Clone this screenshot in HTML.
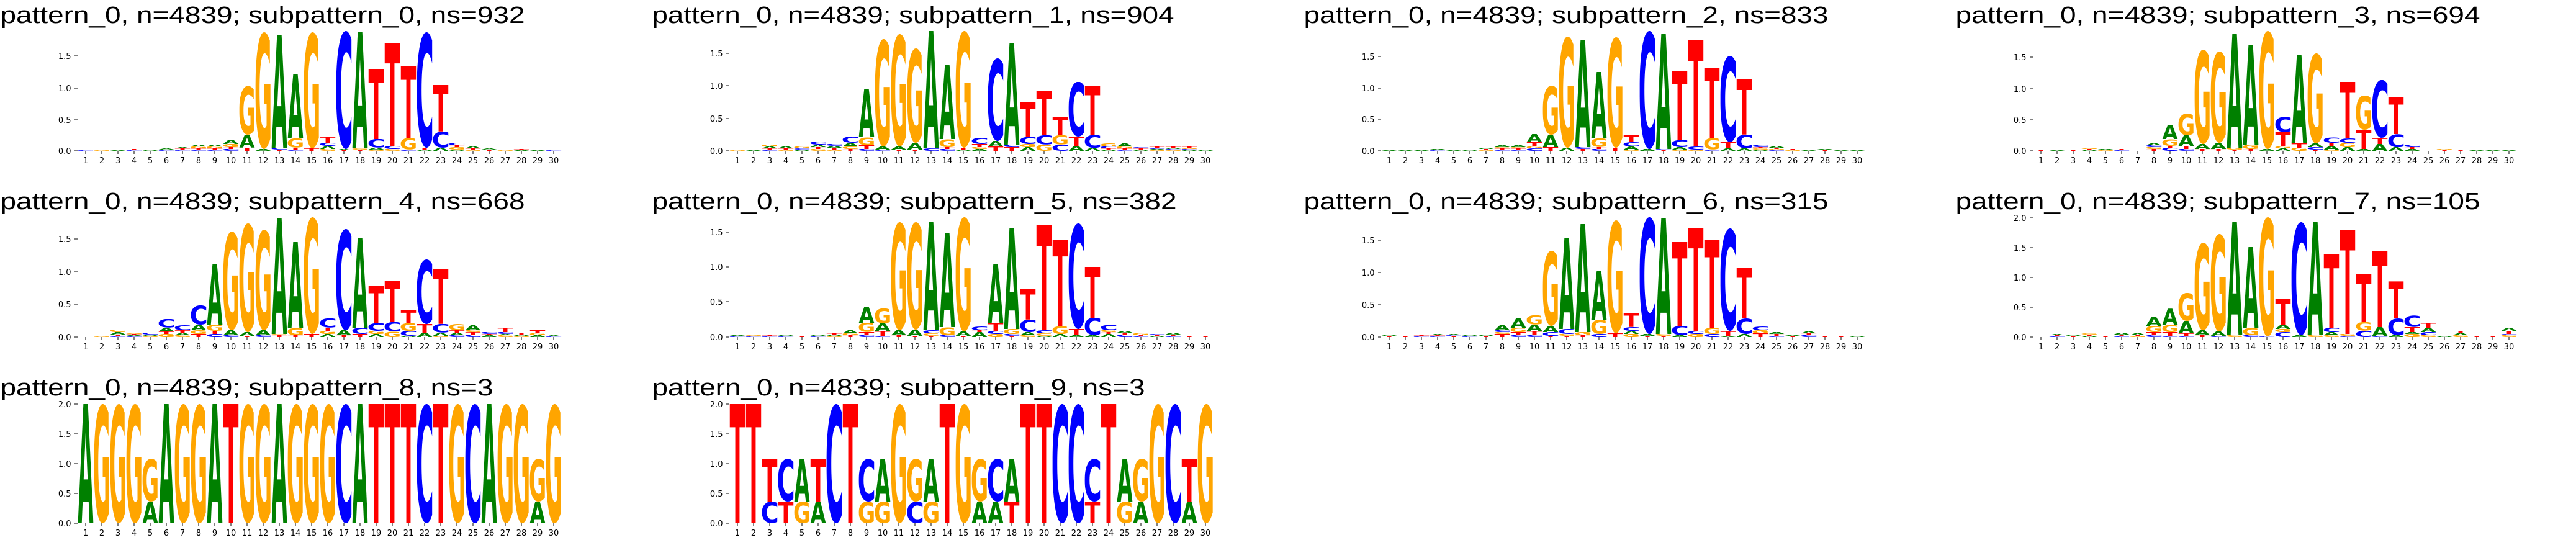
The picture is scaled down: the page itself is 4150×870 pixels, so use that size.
<!DOCTYPE html>
<html><head><meta charset="utf-8"><style>
html,body{margin:0;padding:0;background:#fff}
svg{display:block}
.ttl{font-family:"Liberation Sans",sans-serif;font-size:38px;fill:#000}
.xl{font-family:"DejaVu Sans","Liberation Sans",sans-serif;font-size:13px;fill:#000;text-anchor:middle}
.yl{font-family:"DejaVu Sans","Liberation Sans",sans-serif;font-size:13px;fill:#000;text-anchor:end}
svg svg text{font-family:"DejaVu Sans","Liberation Sans",sans-serif;font-weight:bold;font-size:100px}
.a{fill:#008000}.c{fill:#0000ff}.g{fill:#ffa500}.t{fill:#ff0000}
.tk{stroke:#000;stroke-width:1;fill:none}
</style></head><body>
<svg xmlns="http://www.w3.org/2000/svg" width="4150" height="870" viewBox="0 0 4150 870">
<rect width="4150" height="870" fill="#fff"/>

<!-- P0 -->
<g transform="translate(0,0)">
<text class="ttl" x="0.5" y="37" textLength="845" lengthAdjust="spacingAndGlyphs">pattern_0, n=4839; subpattern_0, ns=932</text>
<path class="tk" d="M138 243v5M164 243v5M190 243v5M216 243v5M242 243v5M268 243v5M294 243v5M320 243v5M346 243v5M372 243v5M398 243v5M424 243v5M450 243v5M476 243v5M502 243v5M528 243v5M554 243v5M580 243v5M606 243v5M632 243v5M658 243v5M684 243v5M710 243v5M736 243v5M762 243v5M788 243v5M814 243v5M840 243v5M866 243v5M892 243v5M120 243h5M120 193h5M120 142h5M120 90h5"/>
<text class="yl" x="114.5" y="248">0.0</text><text class="yl" x="114.5" y="198">0.5</text><text class="yl" x="114.5" y="147">1.0</text><text class="yl" x="114.5" y="95">1.5</text>
<text class="xl" x="138" y="263">1</text><text class="xl" x="164" y="263">2</text><text class="xl" x="190" y="263">3</text><text class="xl" x="216" y="263">4</text><text class="xl" x="242" y="263">5</text><text class="xl" x="268" y="263">6</text><text class="xl" x="294" y="263">7</text><text class="xl" x="320" y="263">8</text><text class="xl" x="346" y="263">9</text><text class="xl" x="372" y="263">10</text><text class="xl" x="398" y="263">11</text><text class="xl" x="424" y="263">12</text><text class="xl" x="450" y="263">13</text><text class="xl" x="476" y="263">14</text><text class="xl" x="502" y="263">15</text><text class="xl" x="528" y="263">16</text><text class="xl" x="554" y="263">17</text><text class="xl" x="580" y="263">18</text><text class="xl" x="606" y="263">19</text><text class="xl" x="632" y="263">20</text><text class="xl" x="658" y="263">21</text><text class="xl" x="684" y="263">22</text><text class="xl" x="710" y="263">23</text><text class="xl" x="736" y="263">24</text><text class="xl" x="762" y="263">25</text><text class="xl" x="788" y="263">26</text><text class="xl" x="814" y="263">27</text><text class="xl" x="840" y="263">28</text><text class="xl" x="866" y="263">29</text><text class="xl" x="892" y="263">30</text>
<g transform="translate(138)"><svg x="-12.35" y="241" width="24.7" height="1" viewBox="0.8 -72.9 75.8 72.9" preserveAspectRatio="none"><text class="a">A</text></svg><svg x="-12.35" y="242" width="24.7" height="1" viewBox="5.5 -74.2 61.7 75.6" preserveAspectRatio="none"><text class="c">C</text></svg></g>
<g transform="translate(164)"><svg x="-12.35" y="241" width="24.7" height="1" viewBox="5.5 -74.2 61.7 75.6" preserveAspectRatio="none"><text class="c">C</text></svg><svg x="-12.35" y="242" width="24.7" height="1" viewBox="5.5 -74.2 71.1 75.6" preserveAspectRatio="none"><text class="g">G</text></svg></g>
<g transform="translate(190)"><svg x="-12.35" y="242" width="24.7" height="1" viewBox="0.8 -72.9 75.8 72.9" preserveAspectRatio="none"><text class="a">A</text></svg></g>
<g transform="translate(216)"><svg x="-12.35" y="240" width="24.7" height="1" viewBox="0.5 -72.9 67.3 72.9" preserveAspectRatio="none"><text class="t">T</text></svg><svg x="-12.35" y="241" width="24.7" height="1" viewBox="0.8 -72.9 75.8 72.9" preserveAspectRatio="none"><text class="a">A</text></svg><svg x="-12.35" y="242" width="24.7" height="1" viewBox="5.5 -74.2 61.7 75.6" preserveAspectRatio="none"><text class="c">C</text></svg></g>
<g transform="translate(242)"><svg x="-12.35" y="241" width="24.7" height="2" viewBox="0.8 -72.9 75.8 72.9" preserveAspectRatio="none"><text class="a">A</text></svg></g>
<g transform="translate(268)"><svg x="-12.35" y="239" width="24.7" height="2" viewBox="0.8 -72.9 75.8 72.9" preserveAspectRatio="none"><text class="a">A</text></svg><svg x="-12.35" y="241" width="24.7" height="1" viewBox="5.5 -74.2 71.1 75.6" preserveAspectRatio="none"><text class="g">G</text></svg><svg x="-12.35" y="242" width="24.7" height="1" viewBox="5.5 -74.2 61.7 75.6" preserveAspectRatio="none"><text class="c">C</text></svg></g>
<g transform="translate(294)"><svg x="-12.35" y="237" width="24.7" height="2" viewBox="0.8 -72.9 75.8 72.9" preserveAspectRatio="none"><text class="a">A</text></svg><svg x="-12.35" y="239" width="24.7" height="2" viewBox="0.5 -72.9 67.3 72.9" preserveAspectRatio="none"><text class="t">T</text></svg><svg x="-12.35" y="241" width="24.7" height="1" viewBox="5.5 -74.2 71.1 75.6" preserveAspectRatio="none"><text class="g">G</text></svg><svg x="-12.35" y="242" width="24.7" height="1" viewBox="5.5 -74.2 61.7 75.6" preserveAspectRatio="none"><text class="c">C</text></svg></g>
<g transform="translate(320)"><svg x="-12.35" y="233" width="24.7" height="3" viewBox="0.8 -72.9 75.8 72.9" preserveAspectRatio="none"><text class="a">A</text></svg><svg x="-12.35" y="236" width="24.7" height="3" viewBox="5.5 -74.2 71.1 75.6" preserveAspectRatio="none"><text class="g">G</text></svg><svg x="-12.35" y="239" width="24.7" height="2" viewBox="0.5 -72.9 67.3 72.9" preserveAspectRatio="none"><text class="t">T</text></svg><svg x="-12.35" y="241" width="24.7" height="2" viewBox="5.5 -74.2 61.7 75.6" preserveAspectRatio="none"><text class="c">C</text></svg></g>
<g transform="translate(346)"><svg x="-12.35" y="233" width="24.7" height="3" viewBox="0.8 -72.9 75.8 72.9" preserveAspectRatio="none"><text class="a">A</text></svg><svg x="-12.35" y="236" width="24.7" height="3" viewBox="5.5 -74.2 71.1 75.6" preserveAspectRatio="none"><text class="g">G</text></svg><svg x="-12.35" y="239" width="24.7" height="2" viewBox="0.5 -72.9 67.3 72.9" preserveAspectRatio="none"><text class="t">T</text></svg><svg x="-12.35" y="241" width="24.7" height="2" viewBox="5.5 -74.2 61.7 75.6" preserveAspectRatio="none"><text class="c">C</text></svg></g>
<g transform="translate(372)"><svg x="-12.35" y="225" width="24.7" height="7" viewBox="0.8 -72.9 75.8 72.9" preserveAspectRatio="none"><text class="a">A</text></svg><svg x="-12.35" y="232" width="24.7" height="5" viewBox="5.5 -74.2 71.1 75.6" preserveAspectRatio="none"><text class="g">G</text></svg><svg x="-12.35" y="237" width="24.7" height="3" viewBox="0.5 -72.9 67.3 72.9" preserveAspectRatio="none"><text class="t">T</text></svg><svg x="-12.35" y="240" width="24.7" height="3" viewBox="5.5 -74.2 61.7 75.6" preserveAspectRatio="none"><text class="c">C</text></svg></g>
<g transform="translate(398)"><svg x="-12.35" y="139" width="24.7" height="78" viewBox="5.5 -74.2 71.1 75.6" preserveAspectRatio="none"><text class="g">G</text></svg><svg x="-12.35" y="217" width="24.7" height="21" viewBox="0.8 -72.9 75.8 72.9" preserveAspectRatio="none"><text class="a">A</text></svg><svg x="-12.35" y="238" width="24.7" height="5" viewBox="0.5 -72.9 67.3 72.9" preserveAspectRatio="none"><text class="t">T</text></svg></g>
<g transform="translate(424)"><svg x="-12.35" y="52" width="24.7" height="188" viewBox="5.5 -74.2 71.1 75.6" preserveAspectRatio="none"><text class="g">G</text></svg><svg x="-12.35" y="240" width="24.7" height="3" viewBox="0.8 -72.9 75.8 72.9" preserveAspectRatio="none"><text class="a">A</text></svg></g>
<g transform="translate(450)"><svg x="-12.35" y="56" width="24.7" height="182" viewBox="0.8 -72.9 75.8 72.9" preserveAspectRatio="none"><text class="a">A</text></svg><svg x="-12.35" y="238" width="24.7" height="3" viewBox="5.5 -74.2 61.7 75.6" preserveAspectRatio="none"><text class="c">C</text></svg><svg x="-12.35" y="241" width="24.7" height="2" viewBox="0.5 -72.9 67.3 72.9" preserveAspectRatio="none"><text class="t">T</text></svg></g>
<g transform="translate(476)"><svg x="-12.35" y="120" width="24.7" height="103" viewBox="0.8 -72.9 75.8 72.9" preserveAspectRatio="none"><text class="a">A</text></svg><svg x="-12.35" y="223" width="24.7" height="15" viewBox="5.5 -74.2 71.1 75.6" preserveAspectRatio="none"><text class="g">G</text></svg><svg x="-12.35" y="238" width="24.7" height="3" viewBox="0.5 -72.9 67.3 72.9" preserveAspectRatio="none"><text class="t">T</text></svg><svg x="-12.35" y="241" width="24.7" height="2" viewBox="5.5 -74.2 61.7 75.6" preserveAspectRatio="none"><text class="c">C</text></svg></g>
<g transform="translate(502)"><svg x="-12.35" y="52" width="24.7" height="187" viewBox="5.5 -74.2 71.1 75.6" preserveAspectRatio="none"><text class="g">G</text></svg><svg x="-12.35" y="239" width="24.7" height="4" viewBox="0.5 -72.9 67.3 72.9" preserveAspectRatio="none"><text class="t">T</text></svg></g>
<g transform="translate(528)"><svg x="-12.35" y="220" width="24.7" height="10" viewBox="0.5 -72.9 67.3 72.9" preserveAspectRatio="none"><text class="t">T</text></svg><svg x="-12.35" y="230" width="24.7" height="5" viewBox="5.5 -74.2 61.7 75.6" preserveAspectRatio="none"><text class="c">C</text></svg><svg x="-12.35" y="235" width="24.7" height="5" viewBox="0.8 -72.9 75.8 72.9" preserveAspectRatio="none"><text class="a">A</text></svg><svg x="-12.35" y="240" width="24.7" height="3" viewBox="5.5 -74.2 71.1 75.6" preserveAspectRatio="none"><text class="g">G</text></svg></g>
<g transform="translate(554)"><svg x="-12.35" y="50" width="24.7" height="190" viewBox="5.5 -74.2 61.7 75.6" preserveAspectRatio="none"><text class="c">C</text></svg><svg x="-12.35" y="240" width="24.7" height="2" viewBox="0.8 -72.9 75.8 72.9" preserveAspectRatio="none"><text class="a">A</text></svg><svg x="-12.35" y="242" width="24.7" height="1" viewBox="0.5 -72.9 67.3 72.9" preserveAspectRatio="none"><text class="t">T</text></svg></g>
<g transform="translate(580)"><svg x="-12.35" y="51" width="24.7" height="188" viewBox="0.8 -72.9 75.8 72.9" preserveAspectRatio="none"><text class="a">A</text></svg><svg x="-12.35" y="239" width="24.7" height="2" viewBox="5.5 -74.2 71.1 75.6" preserveAspectRatio="none"><text class="g">G</text></svg><svg x="-12.35" y="241" width="24.7" height="2" viewBox="0.5 -72.9 67.3 72.9" preserveAspectRatio="none"><text class="t">T</text></svg></g>
<g transform="translate(606)"><svg x="-12.35" y="111" width="24.7" height="113" viewBox="0.5 -72.9 67.3 72.9" preserveAspectRatio="none"><text class="t">T</text></svg><svg x="-12.35" y="224" width="24.7" height="14" viewBox="5.5 -74.2 61.7 75.6" preserveAspectRatio="none"><text class="c">C</text></svg><svg x="-12.35" y="238" width="24.7" height="3" viewBox="0.8 -72.9 75.8 72.9" preserveAspectRatio="none"><text class="a">A</text></svg><svg x="-12.35" y="241" width="24.7" height="2" viewBox="5.5 -74.2 71.1 75.6" preserveAspectRatio="none"><text class="g">G</text></svg></g>
<g transform="translate(632)"><svg x="-12.35" y="70" width="24.7" height="165" viewBox="0.5 -72.9 67.3 72.9" preserveAspectRatio="none"><text class="t">T</text></svg><svg x="-12.35" y="235" width="24.7" height="5" viewBox="5.5 -74.2 61.7 75.6" preserveAspectRatio="none"><text class="c">C</text></svg><svg x="-12.35" y="240" width="24.7" height="3" viewBox="5.5 -74.2 71.1 75.6" preserveAspectRatio="none"><text class="g">G</text></svg></g>
<g transform="translate(658)"><svg x="-12.35" y="106" width="24.7" height="116" viewBox="0.5 -72.9 67.3 72.9" preserveAspectRatio="none"><text class="t">T</text></svg><svg x="-12.35" y="222" width="24.7" height="19" viewBox="5.5 -74.2 71.1 75.6" preserveAspectRatio="none"><text class="g">G</text></svg><svg x="-12.35" y="241" width="24.7" height="2" viewBox="5.5 -74.2 61.7 75.6" preserveAspectRatio="none"><text class="c">C</text></svg></g>
<g transform="translate(684)"><svg x="-12.35" y="52" width="24.7" height="186" viewBox="5.5 -74.2 61.7 75.6" preserveAspectRatio="none"><text class="c">C</text></svg><svg x="-12.35" y="238" width="24.7" height="3" viewBox="0.5 -72.9 67.3 72.9" preserveAspectRatio="none"><text class="t">T</text></svg><svg x="-12.35" y="241" width="24.7" height="2" viewBox="0.8 -72.9 75.8 72.9" preserveAspectRatio="none"><text class="a">A</text></svg></g>
<g transform="translate(710)"><svg x="-12.35" y="137" width="24.7" height="75" viewBox="0.5 -72.9 67.3 72.9" preserveAspectRatio="none"><text class="t">T</text></svg><svg x="-12.35" y="212" width="24.7" height="26" viewBox="5.5 -74.2 61.7 75.6" preserveAspectRatio="none"><text class="c">C</text></svg><svg x="-12.35" y="238" width="24.7" height="5" viewBox="0.8 -72.9 75.8 72.9" preserveAspectRatio="none"><text class="a">A</text></svg></g>
<g transform="translate(736)"><svg x="-12.35" y="230" width="24.7" height="4" viewBox="5.5 -74.2 61.7 75.6" preserveAspectRatio="none"><text class="c">C</text></svg><svg x="-12.35" y="234" width="24.7" height="3" viewBox="0.5 -72.9 67.3 72.9" preserveAspectRatio="none"><text class="t">T</text></svg><svg x="-12.35" y="237" width="24.7" height="4" viewBox="5.5 -74.2 71.1 75.6" preserveAspectRatio="none"><text class="g">G</text></svg><svg x="-12.35" y="241" width="24.7" height="2" viewBox="0.8 -72.9 75.8 72.9" preserveAspectRatio="none"><text class="a">A</text></svg></g>
<g transform="translate(762)"><svg x="-12.35" y="236" width="24.7" height="3" viewBox="0.8 -72.9 75.8 72.9" preserveAspectRatio="none"><text class="a">A</text></svg><svg x="-12.35" y="239" width="24.7" height="2" viewBox="0.5 -72.9 67.3 72.9" preserveAspectRatio="none"><text class="t">T</text></svg><svg x="-12.35" y="241" width="24.7" height="2" viewBox="5.5 -74.2 71.1 75.6" preserveAspectRatio="none"><text class="g">G</text></svg></g>
<g transform="translate(788)"><svg x="-12.35" y="239" width="24.7" height="2" viewBox="0.8 -72.9 75.8 72.9" preserveAspectRatio="none"><text class="a">A</text></svg><svg x="-12.35" y="241" width="24.7" height="2" viewBox="0.5 -72.9 67.3 72.9" preserveAspectRatio="none"><text class="t">T</text></svg></g>
<g transform="translate(814)"><svg x="-12.35" y="242" width="24.7" height="1" viewBox="5.5 -74.2 71.1 75.6" preserveAspectRatio="none"><text class="g">G</text></svg></g>
<g transform="translate(840)"><svg x="-12.35" y="240" width="24.7" height="2" viewBox="0.5 -72.9 67.3 72.9" preserveAspectRatio="none"><text class="t">T</text></svg><svg x="-12.35" y="242" width="24.7" height="1" viewBox="0.8 -72.9 75.8 72.9" preserveAspectRatio="none"><text class="a">A</text></svg></g>
<g transform="translate(866)"><svg x="-12.35" y="242" width="24.7" height="1" viewBox="0.8 -72.9 75.8 72.9" preserveAspectRatio="none"><text class="a">A</text></svg></g>
<g transform="translate(892)"><svg x="-12.35" y="241" width="24.7" height="1" viewBox="0.8 -72.9 75.8 72.9" preserveAspectRatio="none"><text class="a">A</text></svg><svg x="-12.35" y="242" width="24.7" height="1" viewBox="5.5 -74.2 61.7 75.6" preserveAspectRatio="none"><text class="c">C</text></svg></g>
</g>

<!-- P1 -->
<g transform="translate(1050,0)">
<text class="ttl" x="0.5" y="37" textLength="841" lengthAdjust="spacingAndGlyphs">pattern_0, n=4839; subpattern_1, ns=904</text>
<path class="tk" d="M138 243v5M164 243v5M190 243v5M216 243v5M242 243v5M268 243v5M294 243v5M320 243v5M346 243v5M372 243v5M398 243v5M424 243v5M450 243v5M476 243v5M502 243v5M528 243v5M554 243v5M580 243v5M606 243v5M632 243v5M658 243v5M684 243v5M710 243v5M736 243v5M762 243v5M788 243v5M814 243v5M840 243v5M866 243v5M892 243v5M120 243h5M120 191h5M120 138h5M120 86h5"/>
<text class="yl" x="114.5" y="248">0.0</text><text class="yl" x="114.5" y="196">0.5</text><text class="yl" x="114.5" y="143">1.0</text><text class="yl" x="114.5" y="91">1.5</text>
<text class="xl" x="138" y="263">1</text><text class="xl" x="164" y="263">2</text><text class="xl" x="190" y="263">3</text><text class="xl" x="216" y="263">4</text><text class="xl" x="242" y="263">5</text><text class="xl" x="268" y="263">6</text><text class="xl" x="294" y="263">7</text><text class="xl" x="320" y="263">8</text><text class="xl" x="346" y="263">9</text><text class="xl" x="372" y="263">10</text><text class="xl" x="398" y="263">11</text><text class="xl" x="424" y="263">12</text><text class="xl" x="450" y="263">13</text><text class="xl" x="476" y="263">14</text><text class="xl" x="502" y="263">15</text><text class="xl" x="528" y="263">16</text><text class="xl" x="554" y="263">17</text><text class="xl" x="580" y="263">18</text><text class="xl" x="606" y="263">19</text><text class="xl" x="632" y="263">20</text><text class="xl" x="658" y="263">21</text><text class="xl" x="684" y="263">22</text><text class="xl" x="710" y="263">23</text><text class="xl" x="736" y="263">24</text><text class="xl" x="762" y="263">25</text><text class="xl" x="788" y="263">26</text><text class="xl" x="814" y="263">27</text><text class="xl" x="840" y="263">28</text><text class="xl" x="866" y="263">29</text><text class="xl" x="892" y="263">30</text>
<g transform="translate(138)"><svg x="-12.35" y="242" width="24.7" height="1" viewBox="5.5 -74.2 71.1 75.6" preserveAspectRatio="none"><text class="g">G</text></svg></g>
<g transform="translate(164)"><svg x="-12.35" y="242" width="24.7" height="1" viewBox="0.8 -72.9 75.8 72.9" preserveAspectRatio="none"><text class="a">A</text></svg></g>
<g transform="translate(190)"><svg x="-12.35" y="233" width="24.7" height="3" viewBox="5.5 -74.2 71.1 75.6" preserveAspectRatio="none"><text class="g">G</text></svg><svg x="-12.35" y="236" width="24.7" height="3" viewBox="0.8 -72.9 75.8 72.9" preserveAspectRatio="none"><text class="a">A</text></svg><svg x="-12.35" y="239" width="24.7" height="2" viewBox="0.5 -72.9 67.3 72.9" preserveAspectRatio="none"><text class="t">T</text></svg><svg x="-12.35" y="241" width="24.7" height="2" viewBox="5.5 -74.2 61.7 75.6" preserveAspectRatio="none"><text class="c">C</text></svg></g>
<g transform="translate(216)"><svg x="-12.35" y="236" width="24.7" height="3" viewBox="0.8 -72.9 75.8 72.9" preserveAspectRatio="none"><text class="a">A</text></svg><svg x="-12.35" y="239" width="24.7" height="2" viewBox="0.5 -72.9 67.3 72.9" preserveAspectRatio="none"><text class="t">T</text></svg><svg x="-12.35" y="241" width="24.7" height="2" viewBox="5.5 -74.2 71.1 75.6" preserveAspectRatio="none"><text class="g">G</text></svg></g>
<g transform="translate(242)"><svg x="-12.35" y="236" width="24.7" height="3" viewBox="5.5 -74.2 71.1 75.6" preserveAspectRatio="none"><text class="g">G</text></svg><svg x="-12.35" y="239" width="24.7" height="2" viewBox="5.5 -74.2 61.7 75.6" preserveAspectRatio="none"><text class="c">C</text></svg><svg x="-12.35" y="241" width="24.7" height="2" viewBox="0.8 -72.9 75.8 72.9" preserveAspectRatio="none"><text class="a">A</text></svg></g>
<g transform="translate(268)"><svg x="-12.35" y="228" width="24.7" height="5" viewBox="5.5 -74.2 61.7 75.6" preserveAspectRatio="none"><text class="c">C</text></svg><svg x="-12.35" y="233" width="24.7" height="4" viewBox="0.8 -72.9 75.8 72.9" preserveAspectRatio="none"><text class="a">A</text></svg><svg x="-12.35" y="237" width="24.7" height="3" viewBox="0.5 -72.9 67.3 72.9" preserveAspectRatio="none"><text class="t">T</text></svg><svg x="-12.35" y="240" width="24.7" height="3" viewBox="5.5 -74.2 71.1 75.6" preserveAspectRatio="none"><text class="g">G</text></svg></g>
<g transform="translate(294)"><svg x="-12.35" y="232" width="24.7" height="3" viewBox="5.5 -74.2 61.7 75.6" preserveAspectRatio="none"><text class="c">C</text></svg><svg x="-12.35" y="235" width="24.7" height="3" viewBox="0.8 -72.9 75.8 72.9" preserveAspectRatio="none"><text class="a">A</text></svg><svg x="-12.35" y="238" width="24.7" height="3" viewBox="0.5 -72.9 67.3 72.9" preserveAspectRatio="none"><text class="t">T</text></svg><svg x="-12.35" y="241" width="24.7" height="2" viewBox="5.5 -74.2 71.1 75.6" preserveAspectRatio="none"><text class="g">G</text></svg></g>
<g transform="translate(320)"><svg x="-12.35" y="220" width="24.7" height="10" viewBox="5.5 -74.2 61.7 75.6" preserveAspectRatio="none"><text class="c">C</text></svg><svg x="-12.35" y="230" width="24.7" height="6" viewBox="0.8 -72.9 75.8 72.9" preserveAspectRatio="none"><text class="a">A</text></svg><svg x="-12.35" y="236" width="24.7" height="4" viewBox="5.5 -74.2 71.1 75.6" preserveAspectRatio="none"><text class="g">G</text></svg><svg x="-12.35" y="240" width="24.7" height="3" viewBox="0.5 -72.9 67.3 72.9" preserveAspectRatio="none"><text class="t">T</text></svg></g>
<g transform="translate(346)"><svg x="-12.35" y="143" width="24.7" height="78" viewBox="0.8 -72.9 75.8 72.9" preserveAspectRatio="none"><text class="a">A</text></svg><svg x="-12.35" y="221" width="24.7" height="13" viewBox="5.5 -74.2 71.1 75.6" preserveAspectRatio="none"><text class="g">G</text></svg><svg x="-12.35" y="234" width="24.7" height="6" viewBox="0.5 -72.9 67.3 72.9" preserveAspectRatio="none"><text class="t">T</text></svg><svg x="-12.35" y="240" width="24.7" height="3" viewBox="5.5 -74.2 61.7 75.6" preserveAspectRatio="none"><text class="c">C</text></svg></g>
<g transform="translate(372)"><svg x="-12.35" y="63" width="24.7" height="173" viewBox="5.5 -74.2 71.1 75.6" preserveAspectRatio="none"><text class="g">G</text></svg><svg x="-12.35" y="236" width="24.7" height="5" viewBox="0.8 -72.9 75.8 72.9" preserveAspectRatio="none"><text class="a">A</text></svg><svg x="-12.35" y="241" width="24.7" height="2" viewBox="5.5 -74.2 61.7 75.6" preserveAspectRatio="none"><text class="c">C</text></svg></g>
<g transform="translate(398)"><svg x="-12.35" y="55" width="24.7" height="181" viewBox="5.5 -74.2 71.1 75.6" preserveAspectRatio="none"><text class="g">G</text></svg><svg x="-12.35" y="236" width="24.7" height="5" viewBox="0.8 -72.9 75.8 72.9" preserveAspectRatio="none"><text class="a">A</text></svg><svg x="-12.35" y="241" width="24.7" height="2" viewBox="0.5 -72.9 67.3 72.9" preserveAspectRatio="none"><text class="t">T</text></svg></g>
<g transform="translate(424)"><svg x="-12.35" y="78" width="24.7" height="152" viewBox="5.5 -74.2 71.1 75.6" preserveAspectRatio="none"><text class="g">G</text></svg><svg x="-12.35" y="230" width="24.7" height="11" viewBox="0.8 -72.9 75.8 72.9" preserveAspectRatio="none"><text class="a">A</text></svg><svg x="-12.35" y="241" width="24.7" height="2" viewBox="0.5 -72.9 67.3 72.9" preserveAspectRatio="none"><text class="t">T</text></svg></g>
<g transform="translate(450)"><svg x="-12.35" y="50" width="24.7" height="189" viewBox="0.8 -72.9 75.8 72.9" preserveAspectRatio="none"><text class="a">A</text></svg><svg x="-12.35" y="239" width="24.7" height="4" viewBox="5.5 -74.2 61.7 75.6" preserveAspectRatio="none"><text class="c">C</text></svg></g>
<g transform="translate(476)"><svg x="-12.35" y="104" width="24.7" height="120" viewBox="0.8 -72.9 75.8 72.9" preserveAspectRatio="none"><text class="a">A</text></svg><svg x="-12.35" y="224" width="24.7" height="13" viewBox="5.5 -74.2 71.1 75.6" preserveAspectRatio="none"><text class="g">G</text></svg><svg x="-12.35" y="237" width="24.7" height="3" viewBox="0.5 -72.9 67.3 72.9" preserveAspectRatio="none"><text class="t">T</text></svg><svg x="-12.35" y="240" width="24.7" height="3" viewBox="5.5 -74.2 61.7 75.6" preserveAspectRatio="none"><text class="c">C</text></svg></g>
<g transform="translate(502)"><svg x="-12.35" y="50" width="24.7" height="188" viewBox="5.5 -74.2 71.1 75.6" preserveAspectRatio="none"><text class="g">G</text></svg><svg x="-12.35" y="238" width="24.7" height="3" viewBox="0.5 -72.9 67.3 72.9" preserveAspectRatio="none"><text class="t">T</text></svg><svg x="-12.35" y="241" width="24.7" height="2" viewBox="0.8 -72.9 75.8 72.9" preserveAspectRatio="none"><text class="a">A</text></svg></g>
<g transform="translate(528)"><svg x="-12.35" y="222" width="24.7" height="10" viewBox="5.5 -74.2 61.7 75.6" preserveAspectRatio="none"><text class="c">C</text></svg><svg x="-12.35" y="232" width="24.7" height="5" viewBox="0.5 -72.9 67.3 72.9" preserveAspectRatio="none"><text class="t">T</text></svg><svg x="-12.35" y="237" width="24.7" height="3" viewBox="5.5 -74.2 71.1 75.6" preserveAspectRatio="none"><text class="g">G</text></svg><svg x="-12.35" y="240" width="24.7" height="3" viewBox="0.8 -72.9 75.8 72.9" preserveAspectRatio="none"><text class="a">A</text></svg></g>
<g transform="translate(554)"><svg x="-12.35" y="94" width="24.7" height="133" viewBox="5.5 -74.2 61.7 75.6" preserveAspectRatio="none"><text class="c">C</text></svg><svg x="-12.35" y="227" width="24.7" height="9" viewBox="0.8 -72.9 75.8 72.9" preserveAspectRatio="none"><text class="a">A</text></svg><svg x="-12.35" y="236" width="24.7" height="7" viewBox="0.5 -72.9 67.3 72.9" preserveAspectRatio="none"><text class="t">T</text></svg></g>
<g transform="translate(580)"><svg x="-12.35" y="70" width="24.7" height="163" viewBox="0.8 -72.9 75.8 72.9" preserveAspectRatio="none"><text class="a">A</text></svg><svg x="-12.35" y="233" width="24.7" height="4" viewBox="5.5 -74.2 61.7 75.6" preserveAspectRatio="none"><text class="c">C</text></svg><svg x="-12.35" y="237" width="24.7" height="6" viewBox="0.5 -72.9 67.3 72.9" preserveAspectRatio="none"><text class="t">T</text></svg></g>
<g transform="translate(606)"><svg x="-12.35" y="164" width="24.7" height="56" viewBox="0.5 -72.9 67.3 72.9" preserveAspectRatio="none"><text class="t">T</text></svg><svg x="-12.35" y="220" width="24.7" height="12" viewBox="5.5 -74.2 61.7 75.6" preserveAspectRatio="none"><text class="c">C</text></svg><svg x="-12.35" y="232" width="24.7" height="5" viewBox="5.5 -74.2 71.1 75.6" preserveAspectRatio="none"><text class="g">G</text></svg><svg x="-12.35" y="237" width="24.7" height="6" viewBox="0.8 -72.9 75.8 72.9" preserveAspectRatio="none"><text class="a">A</text></svg></g>
<g transform="translate(632)"><svg x="-12.35" y="146" width="24.7" height="72" viewBox="0.5 -72.9 67.3 72.9" preserveAspectRatio="none"><text class="t">T</text></svg><svg x="-12.35" y="218" width="24.7" height="15" viewBox="5.5 -74.2 61.7 75.6" preserveAspectRatio="none"><text class="c">C</text></svg><svg x="-12.35" y="233" width="24.7" height="10" viewBox="5.5 -74.2 71.1 75.6" preserveAspectRatio="none"><text class="g">G</text></svg></g>
<g transform="translate(658)"><svg x="-12.35" y="188" width="24.7" height="30" viewBox="0.5 -72.9 67.3 72.9" preserveAspectRatio="none"><text class="t">T</text></svg><svg x="-12.35" y="218" width="24.7" height="15" viewBox="5.5 -74.2 71.1 75.6" preserveAspectRatio="none"><text class="g">G</text></svg><svg x="-12.35" y="233" width="24.7" height="10" viewBox="5.5 -74.2 61.7 75.6" preserveAspectRatio="none"><text class="c">C</text></svg></g>
<g transform="translate(684)"><svg x="-12.35" y="132" width="24.7" height="88" viewBox="5.5 -74.2 61.7 75.6" preserveAspectRatio="none"><text class="c">C</text></svg><svg x="-12.35" y="220" width="24.7" height="15" viewBox="0.5 -72.9 67.3 72.9" preserveAspectRatio="none"><text class="t">T</text></svg><svg x="-12.35" y="235" width="24.7" height="8" viewBox="0.8 -72.9 75.8 72.9" preserveAspectRatio="none"><text class="a">A</text></svg></g>
<g transform="translate(710)"><svg x="-12.35" y="138" width="24.7" height="79" viewBox="0.5 -72.9 67.3 72.9" preserveAspectRatio="none"><text class="t">T</text></svg><svg x="-12.35" y="217" width="24.7" height="21" viewBox="5.5 -74.2 61.7 75.6" preserveAspectRatio="none"><text class="c">C</text></svg><svg x="-12.35" y="238" width="24.7" height="5" viewBox="0.8 -72.9 75.8 72.9" preserveAspectRatio="none"><text class="a">A</text></svg></g>
<g transform="translate(736)"><svg x="-12.35" y="231" width="24.7" height="5" viewBox="5.5 -74.2 71.1 75.6" preserveAspectRatio="none"><text class="g">G</text></svg><svg x="-12.35" y="236" width="24.7" height="3" viewBox="5.5 -74.2 61.7 75.6" preserveAspectRatio="none"><text class="c">C</text></svg><svg x="-12.35" y="239" width="24.7" height="2" viewBox="0.5 -72.9 67.3 72.9" preserveAspectRatio="none"><text class="t">T</text></svg><svg x="-12.35" y="241" width="24.7" height="2" viewBox="0.8 -72.9 75.8 72.9" preserveAspectRatio="none"><text class="a">A</text></svg></g>
<g transform="translate(762)"><svg x="-12.35" y="231" width="24.7" height="5" viewBox="0.8 -72.9 75.8 72.9" preserveAspectRatio="none"><text class="a">A</text></svg><svg x="-12.35" y="236" width="24.7" height="3" viewBox="5.5 -74.2 71.1 75.6" preserveAspectRatio="none"><text class="g">G</text></svg><svg x="-12.35" y="239" width="24.7" height="2" viewBox="0.5 -72.9 67.3 72.9" preserveAspectRatio="none"><text class="t">T</text></svg><svg x="-12.35" y="241" width="24.7" height="2" viewBox="5.5 -74.2 61.7 75.6" preserveAspectRatio="none"><text class="c">C</text></svg></g>
<g transform="translate(788)"><svg x="-12.35" y="237" width="24.7" height="2" viewBox="5.5 -74.2 61.7 75.6" preserveAspectRatio="none"><text class="c">C</text></svg><svg x="-12.35" y="239" width="24.7" height="2" viewBox="0.5 -72.9 67.3 72.9" preserveAspectRatio="none"><text class="t">T</text></svg><svg x="-12.35" y="241" width="24.7" height="2" viewBox="0.8 -72.9 75.8 72.9" preserveAspectRatio="none"><text class="a">A</text></svg></g>
<g transform="translate(814)"><svg x="-12.35" y="236" width="24.7" height="2" viewBox="0.5 -72.9 67.3 72.9" preserveAspectRatio="none"><text class="t">T</text></svg><svg x="-12.35" y="238" width="24.7" height="2" viewBox="5.5 -74.2 61.7 75.6" preserveAspectRatio="none"><text class="c">C</text></svg><svg x="-12.35" y="240" width="24.7" height="1" viewBox="0.8 -72.9 75.8 72.9" preserveAspectRatio="none"><text class="a">A</text></svg><svg x="-12.35" y="241" width="24.7" height="2" viewBox="5.5 -74.2 71.1 75.6" preserveAspectRatio="none"><text class="g">G</text></svg></g>
<g transform="translate(840)"><svg x="-12.35" y="236" width="24.7" height="2" viewBox="0.5 -72.9 67.3 72.9" preserveAspectRatio="none"><text class="t">T</text></svg><svg x="-12.35" y="238" width="24.7" height="2" viewBox="0.8 -72.9 75.8 72.9" preserveAspectRatio="none"><text class="a">A</text></svg><svg x="-12.35" y="240" width="24.7" height="1" viewBox="5.5 -74.2 61.7 75.6" preserveAspectRatio="none"><text class="c">C</text></svg><svg x="-12.35" y="241" width="24.7" height="2" viewBox="5.5 -74.2 71.1 75.6" preserveAspectRatio="none"><text class="g">G</text></svg></g>
<g transform="translate(866)"><svg x="-12.35" y="236" width="24.7" height="2" viewBox="0.5 -72.9 67.3 72.9" preserveAspectRatio="none"><text class="t">T</text></svg><svg x="-12.35" y="238" width="24.7" height="2" viewBox="5.5 -74.2 71.1 75.6" preserveAspectRatio="none"><text class="g">G</text></svg><svg x="-12.35" y="240" width="24.7" height="1" viewBox="5.5 -74.2 61.7 75.6" preserveAspectRatio="none"><text class="c">C</text></svg><svg x="-12.35" y="241" width="24.7" height="2" viewBox="0.8 -72.9 75.8 72.9" preserveAspectRatio="none"><text class="a">A</text></svg></g>
<g transform="translate(892)"><svg x="-12.35" y="241" width="24.7" height="2" viewBox="0.8 -72.9 75.8 72.9" preserveAspectRatio="none"><text class="a">A</text></svg></g>
</g>

<!-- P2 -->
<g transform="translate(2100,0)">
<text class="ttl" x="0.5" y="37" textLength="845" lengthAdjust="spacingAndGlyphs">pattern_0, n=4839; subpattern_2, ns=833</text>
<path class="tk" d="M138 243v5M164 243v5M190 243v5M216 243v5M242 243v5M268 243v5M294 243v5M320 243v5M346 243v5M372 243v5M398 243v5M424 243v5M450 243v5M476 243v5M502 243v5M528 243v5M554 243v5M580 243v5M606 243v5M632 243v5M658 243v5M684 243v5M710 243v5M736 243v5M762 243v5M788 243v5M814 243v5M840 243v5M866 243v5M892 243v5M120 243h5M120 192h5M120 142h5M120 91h5"/>
<text class="yl" x="114.5" y="248">0.0</text><text class="yl" x="114.5" y="197">0.5</text><text class="yl" x="114.5" y="147">1.0</text><text class="yl" x="114.5" y="96">1.5</text>
<text class="xl" x="138" y="263">1</text><text class="xl" x="164" y="263">2</text><text class="xl" x="190" y="263">3</text><text class="xl" x="216" y="263">4</text><text class="xl" x="242" y="263">5</text><text class="xl" x="268" y="263">6</text><text class="xl" x="294" y="263">7</text><text class="xl" x="320" y="263">8</text><text class="xl" x="346" y="263">9</text><text class="xl" x="372" y="263">10</text><text class="xl" x="398" y="263">11</text><text class="xl" x="424" y="263">12</text><text class="xl" x="450" y="263">13</text><text class="xl" x="476" y="263">14</text><text class="xl" x="502" y="263">15</text><text class="xl" x="528" y="263">16</text><text class="xl" x="554" y="263">17</text><text class="xl" x="580" y="263">18</text><text class="xl" x="606" y="263">19</text><text class="xl" x="632" y="263">20</text><text class="xl" x="658" y="263">21</text><text class="xl" x="684" y="263">22</text><text class="xl" x="710" y="263">23</text><text class="xl" x="736" y="263">24</text><text class="xl" x="762" y="263">25</text><text class="xl" x="788" y="263">26</text><text class="xl" x="814" y="263">27</text><text class="xl" x="840" y="263">28</text><text class="xl" x="866" y="263">29</text><text class="xl" x="892" y="263">30</text>
<g transform="translate(138)"><svg x="-12.35" y="242" width="24.7" height="1" viewBox="0.8 -72.9 75.8 72.9" preserveAspectRatio="none"><text class="a">A</text></svg></g>
<g transform="translate(164)"><svg x="-12.35" y="242" width="24.7" height="1" viewBox="0.8 -72.9 75.8 72.9" preserveAspectRatio="none"><text class="a">A</text></svg></g>
<g transform="translate(190)"><svg x="-12.35" y="242" width="24.7" height="1" viewBox="0.8 -72.9 75.8 72.9" preserveAspectRatio="none"><text class="a">A</text></svg></g>
<g transform="translate(216)"><svg x="-12.35" y="240" width="24.7" height="1" viewBox="0.8 -72.9 75.8 72.9" preserveAspectRatio="none"><text class="a">A</text></svg><svg x="-12.35" y="241" width="24.7" height="1" viewBox="0.5 -72.9 67.3 72.9" preserveAspectRatio="none"><text class="t">T</text></svg><svg x="-12.35" y="242" width="24.7" height="1" viewBox="5.5 -74.2 61.7 75.6" preserveAspectRatio="none"><text class="c">C</text></svg></g>
<g transform="translate(242)"><svg x="-12.35" y="242" width="24.7" height="1" viewBox="0.8 -72.9 75.8 72.9" preserveAspectRatio="none"><text class="a">A</text></svg></g>
<g transform="translate(268)"><svg x="-12.35" y="241" width="24.7" height="2" viewBox="0.8 -72.9 75.8 72.9" preserveAspectRatio="none"><text class="a">A</text></svg></g>
<g transform="translate(294)"><svg x="-12.35" y="238" width="24.7" height="2" viewBox="0.8 -72.9 75.8 72.9" preserveAspectRatio="none"><text class="a">A</text></svg><svg x="-12.35" y="240" width="24.7" height="1" viewBox="0.5 -72.9 67.3 72.9" preserveAspectRatio="none"><text class="t">T</text></svg><svg x="-12.35" y="241" width="24.7" height="2" viewBox="5.5 -74.2 71.1 75.6" preserveAspectRatio="none"><text class="g">G</text></svg></g>
<g transform="translate(320)"><svg x="-12.35" y="234" width="24.7" height="3" viewBox="0.8 -72.9 75.8 72.9" preserveAspectRatio="none"><text class="a">A</text></svg><svg x="-12.35" y="237" width="24.7" height="2" viewBox="5.5 -74.2 71.1 75.6" preserveAspectRatio="none"><text class="g">G</text></svg><svg x="-12.35" y="239" width="24.7" height="2" viewBox="0.5 -72.9 67.3 72.9" preserveAspectRatio="none"><text class="t">T</text></svg><svg x="-12.35" y="241" width="24.7" height="2" viewBox="5.5 -74.2 61.7 75.6" preserveAspectRatio="none"><text class="c">C</text></svg></g>
<g transform="translate(346)"><svg x="-12.35" y="234" width="24.7" height="3" viewBox="0.8 -72.9 75.8 72.9" preserveAspectRatio="none"><text class="a">A</text></svg><svg x="-12.35" y="237" width="24.7" height="2" viewBox="5.5 -74.2 71.1 75.6" preserveAspectRatio="none"><text class="g">G</text></svg><svg x="-12.35" y="239" width="24.7" height="2" viewBox="0.5 -72.9 67.3 72.9" preserveAspectRatio="none"><text class="t">T</text></svg><svg x="-12.35" y="241" width="24.7" height="2" viewBox="5.5 -74.2 61.7 75.6" preserveAspectRatio="none"><text class="c">C</text></svg></g>
<g transform="translate(372)"><svg x="-12.35" y="216" width="24.7" height="13" viewBox="0.8 -72.9 75.8 72.9" preserveAspectRatio="none"><text class="a">A</text></svg><svg x="-12.35" y="229" width="24.7" height="7" viewBox="0.5 -72.9 67.3 72.9" preserveAspectRatio="none"><text class="t">T</text></svg><svg x="-12.35" y="236" width="24.7" height="3" viewBox="5.5 -74.2 71.1 75.6" preserveAspectRatio="none"><text class="g">G</text></svg><svg x="-12.35" y="239" width="24.7" height="4" viewBox="5.5 -74.2 61.7 75.6" preserveAspectRatio="none"><text class="c">C</text></svg></g>
<g transform="translate(398)"><svg x="-12.35" y="138" width="24.7" height="79" viewBox="5.5 -74.2 71.1 75.6" preserveAspectRatio="none"><text class="g">G</text></svg><svg x="-12.35" y="217" width="24.7" height="20" viewBox="0.8 -72.9 75.8 72.9" preserveAspectRatio="none"><text class="a">A</text></svg><svg x="-12.35" y="237" width="24.7" height="6" viewBox="0.5 -72.9 67.3 72.9" preserveAspectRatio="none"><text class="t">T</text></svg></g>
<g transform="translate(424)"><svg x="-12.35" y="59" width="24.7" height="179" viewBox="5.5 -74.2 71.1 75.6" preserveAspectRatio="none"><text class="g">G</text></svg><svg x="-12.35" y="238" width="24.7" height="5" viewBox="0.8 -72.9 75.8 72.9" preserveAspectRatio="none"><text class="a">A</text></svg></g>
<g transform="translate(450)"><svg x="-12.35" y="64" width="24.7" height="173" viewBox="0.8 -72.9 75.8 72.9" preserveAspectRatio="none"><text class="a">A</text></svg><svg x="-12.35" y="237" width="24.7" height="3" viewBox="5.5 -74.2 61.7 75.6" preserveAspectRatio="none"><text class="c">C</text></svg><svg x="-12.35" y="240" width="24.7" height="3" viewBox="0.5 -72.9 67.3 72.9" preserveAspectRatio="none"><text class="t">T</text></svg></g>
<g transform="translate(476)"><svg x="-12.35" y="116" width="24.7" height="107" viewBox="0.8 -72.9 75.8 72.9" preserveAspectRatio="none"><text class="a">A</text></svg><svg x="-12.35" y="223" width="24.7" height="14" viewBox="5.5 -74.2 71.1 75.6" preserveAspectRatio="none"><text class="g">G</text></svg><svg x="-12.35" y="237" width="24.7" height="3" viewBox="0.5 -72.9 67.3 72.9" preserveAspectRatio="none"><text class="t">T</text></svg><svg x="-12.35" y="240" width="24.7" height="3" viewBox="5.5 -74.2 61.7 75.6" preserveAspectRatio="none"><text class="c">C</text></svg></g>
<g transform="translate(502)"><svg x="-12.35" y="60" width="24.7" height="178" viewBox="5.5 -74.2 71.1 75.6" preserveAspectRatio="none"><text class="g">G</text></svg><svg x="-12.35" y="238" width="24.7" height="5" viewBox="0.5 -72.9 67.3 72.9" preserveAspectRatio="none"><text class="t">T</text></svg></g>
<g transform="translate(528)"><svg x="-12.35" y="218" width="24.7" height="11" viewBox="0.5 -72.9 67.3 72.9" preserveAspectRatio="none"><text class="t">T</text></svg><svg x="-12.35" y="229" width="24.7" height="7" viewBox="5.5 -74.2 61.7 75.6" preserveAspectRatio="none"><text class="c">C</text></svg><svg x="-12.35" y="236" width="24.7" height="5" viewBox="0.8 -72.9 75.8 72.9" preserveAspectRatio="none"><text class="a">A</text></svg><svg x="-12.35" y="241" width="24.7" height="2" viewBox="5.5 -74.2 71.1 75.6" preserveAspectRatio="none"><text class="g">G</text></svg></g>
<g transform="translate(554)"><svg x="-12.35" y="50" width="24.7" height="190" viewBox="5.5 -74.2 61.7 75.6" preserveAspectRatio="none"><text class="c">C</text></svg><svg x="-12.35" y="240" width="24.7" height="3" viewBox="0.8 -72.9 75.8 72.9" preserveAspectRatio="none"><text class="a">A</text></svg></g>
<g transform="translate(580)"><svg x="-12.35" y="55" width="24.7" height="185" viewBox="0.8 -72.9 75.8 72.9" preserveAspectRatio="none"><text class="a">A</text></svg><svg x="-12.35" y="240" width="24.7" height="1" viewBox="5.5 -74.2 61.7 75.6" preserveAspectRatio="none"><text class="c">C</text></svg><svg x="-12.35" y="241" width="24.7" height="2" viewBox="0.5 -72.9 67.3 72.9" preserveAspectRatio="none"><text class="t">T</text></svg></g>
<g transform="translate(606)"><svg x="-12.35" y="114" width="24.7" height="111" viewBox="0.5 -72.9 67.3 72.9" preserveAspectRatio="none"><text class="t">T</text></svg><svg x="-12.35" y="225" width="24.7" height="12" viewBox="5.5 -74.2 61.7 75.6" preserveAspectRatio="none"><text class="c">C</text></svg><svg x="-12.35" y="237" width="24.7" height="4" viewBox="0.8 -72.9 75.8 72.9" preserveAspectRatio="none"><text class="a">A</text></svg><svg x="-12.35" y="241" width="24.7" height="2" viewBox="5.5 -74.2 71.1 75.6" preserveAspectRatio="none"><text class="g">G</text></svg></g>
<g transform="translate(632)"><svg x="-12.35" y="65" width="24.7" height="171" viewBox="0.5 -72.9 67.3 72.9" preserveAspectRatio="none"><text class="t">T</text></svg><svg x="-12.35" y="236" width="24.7" height="5" viewBox="5.5 -74.2 61.7 75.6" preserveAspectRatio="none"><text class="c">C</text></svg><svg x="-12.35" y="241" width="24.7" height="2" viewBox="5.5 -74.2 71.1 75.6" preserveAspectRatio="none"><text class="g">G</text></svg></g>
<g transform="translate(658)"><svg x="-12.35" y="109" width="24.7" height="113" viewBox="0.5 -72.9 67.3 72.9" preserveAspectRatio="none"><text class="t">T</text></svg><svg x="-12.35" y="222" width="24.7" height="19" viewBox="5.5 -74.2 71.1 75.6" preserveAspectRatio="none"><text class="g">G</text></svg><svg x="-12.35" y="241" width="24.7" height="2" viewBox="5.5 -74.2 61.7 75.6" preserveAspectRatio="none"><text class="c">C</text></svg></g>
<g transform="translate(684)"><svg x="-12.35" y="90" width="24.7" height="139" viewBox="5.5 -74.2 61.7 75.6" preserveAspectRatio="none"><text class="c">C</text></svg><svg x="-12.35" y="229" width="24.7" height="10" viewBox="0.5 -72.9 67.3 72.9" preserveAspectRatio="none"><text class="t">T</text></svg><svg x="-12.35" y="239" width="24.7" height="4" viewBox="0.8 -72.9 75.8 72.9" preserveAspectRatio="none"><text class="a">A</text></svg></g>
<g transform="translate(710)"><svg x="-12.35" y="128" width="24.7" height="89" viewBox="0.5 -72.9 67.3 72.9" preserveAspectRatio="none"><text class="t">T</text></svg><svg x="-12.35" y="217" width="24.7" height="22" viewBox="5.5 -74.2 61.7 75.6" preserveAspectRatio="none"><text class="c">C</text></svg><svg x="-12.35" y="239" width="24.7" height="4" viewBox="0.8 -72.9 75.8 72.9" preserveAspectRatio="none"><text class="a">A</text></svg></g>
<g transform="translate(736)"><svg x="-12.35" y="234" width="24.7" height="3" viewBox="5.5 -74.2 61.7 75.6" preserveAspectRatio="none"><text class="c">C</text></svg><svg x="-12.35" y="237" width="24.7" height="2" viewBox="0.5 -72.9 67.3 72.9" preserveAspectRatio="none"><text class="t">T</text></svg><svg x="-12.35" y="239" width="24.7" height="2" viewBox="5.5 -74.2 71.1 75.6" preserveAspectRatio="none"><text class="g">G</text></svg><svg x="-12.35" y="241" width="24.7" height="2" viewBox="0.8 -72.9 75.8 72.9" preserveAspectRatio="none"><text class="a">A</text></svg></g>
<g transform="translate(762)"><svg x="-12.35" y="235" width="24.7" height="3" viewBox="0.8 -72.9 75.8 72.9" preserveAspectRatio="none"><text class="a">A</text></svg><svg x="-12.35" y="238" width="24.7" height="2" viewBox="0.5 -72.9 67.3 72.9" preserveAspectRatio="none"><text class="t">T</text></svg><svg x="-12.35" y="240" width="24.7" height="1" viewBox="5.5 -74.2 71.1 75.6" preserveAspectRatio="none"><text class="g">G</text></svg><svg x="-12.35" y="241" width="24.7" height="2" viewBox="5.5 -74.2 61.7 75.6" preserveAspectRatio="none"><text class="c">C</text></svg></g>
<g transform="translate(788)"><svg x="-12.35" y="240" width="24.7" height="1" viewBox="0.5 -72.9 67.3 72.9" preserveAspectRatio="none"><text class="t">T</text></svg><svg x="-12.35" y="241" width="24.7" height="2" viewBox="5.5 -74.2 71.1 75.6" preserveAspectRatio="none"><text class="g">G</text></svg></g>
<g transform="translate(814)"><svg x="-12.35" y="242" width="24.7" height="1" viewBox="0.8 -72.9 75.8 72.9" preserveAspectRatio="none"><text class="a">A</text></svg></g>
<g transform="translate(840)"><svg x="-12.35" y="240" width="24.7" height="1" viewBox="0.8 -72.9 75.8 72.9" preserveAspectRatio="none"><text class="a">A</text></svg><svg x="-12.35" y="241" width="24.7" height="2" viewBox="0.5 -72.9 67.3 72.9" preserveAspectRatio="none"><text class="t">T</text></svg></g>
<g transform="translate(866)"><svg x="-12.35" y="242" width="24.7" height="1" viewBox="0.8 -72.9 75.8 72.9" preserveAspectRatio="none"><text class="a">A</text></svg></g>
<g transform="translate(892)"><svg x="-12.35" y="242" width="24.7" height="1" viewBox="0.8 -72.9 75.8 72.9" preserveAspectRatio="none"><text class="a">A</text></svg></g>
</g>

<!-- P3 -->
<g transform="translate(3150,0)">
<text class="ttl" x="0.5" y="37" textLength="845" lengthAdjust="spacingAndGlyphs">pattern_0, n=4839; subpattern_3, ns=694</text>
<path class="tk" d="M138 243v5M164 243v5M190 243v5M216 243v5M242 243v5M268 243v5M294 243v5M320 243v5M346 243v5M372 243v5M398 243v5M424 243v5M450 243v5M476 243v5M502 243v5M528 243v5M554 243v5M580 243v5M606 243v5M632 243v5M658 243v5M684 243v5M710 243v5M736 243v5M762 243v5M788 243v5M814 243v5M840 243v5M866 243v5M892 243v5M120 243h5M120 193h5M120 143h5M120 92h5"/>
<text class="yl" x="114.5" y="248">0.0</text><text class="yl" x="114.5" y="198">0.5</text><text class="yl" x="114.5" y="148">1.0</text><text class="yl" x="114.5" y="97">1.5</text>
<text class="xl" x="138" y="263">1</text><text class="xl" x="164" y="263">2</text><text class="xl" x="190" y="263">3</text><text class="xl" x="216" y="263">4</text><text class="xl" x="242" y="263">5</text><text class="xl" x="268" y="263">6</text><text class="xl" x="294" y="263">7</text><text class="xl" x="320" y="263">8</text><text class="xl" x="346" y="263">9</text><text class="xl" x="372" y="263">10</text><text class="xl" x="398" y="263">11</text><text class="xl" x="424" y="263">12</text><text class="xl" x="450" y="263">13</text><text class="xl" x="476" y="263">14</text><text class="xl" x="502" y="263">15</text><text class="xl" x="528" y="263">16</text><text class="xl" x="554" y="263">17</text><text class="xl" x="580" y="263">18</text><text class="xl" x="606" y="263">19</text><text class="xl" x="632" y="263">20</text><text class="xl" x="658" y="263">21</text><text class="xl" x="684" y="263">22</text><text class="xl" x="710" y="263">23</text><text class="xl" x="736" y="263">24</text><text class="xl" x="762" y="263">25</text><text class="xl" x="788" y="263">26</text><text class="xl" x="814" y="263">27</text><text class="xl" x="840" y="263">28</text><text class="xl" x="866" y="263">29</text><text class="xl" x="892" y="263">30</text>
<g transform="translate(138)"><svg x="-12.35" y="242" width="24.7" height="1" viewBox="0.5 -72.9 67.3 72.9" preserveAspectRatio="none"><text class="t">T</text></svg></g>
<g transform="translate(164)"><svg x="-12.35" y="242" width="24.7" height="1" viewBox="0.8 -72.9 75.8 72.9" preserveAspectRatio="none"><text class="a">A</text></svg></g>
<g transform="translate(190)"><svg x="-12.35" y="242" width="24.7" height="1" viewBox="0.5 -72.9 67.3 72.9" preserveAspectRatio="none"><text class="t">T</text></svg></g>
<g transform="translate(216)"><svg x="-12.35" y="238" width="24.7" height="2" viewBox="5.5 -74.2 71.1 75.6" preserveAspectRatio="none"><text class="g">G</text></svg><svg x="-12.35" y="240" width="24.7" height="1" viewBox="0.5 -72.9 67.3 72.9" preserveAspectRatio="none"><text class="t">T</text></svg><svg x="-12.35" y="241" width="24.7" height="2" viewBox="0.8 -72.9 75.8 72.9" preserveAspectRatio="none"><text class="a">A</text></svg></g>
<g transform="translate(242)"><svg x="-12.35" y="240" width="24.7" height="1" viewBox="0.8 -72.9 75.8 72.9" preserveAspectRatio="none"><text class="a">A</text></svg><svg x="-12.35" y="241" width="24.7" height="2" viewBox="5.5 -74.2 71.1 75.6" preserveAspectRatio="none"><text class="g">G</text></svg></g>
<g transform="translate(268)"><svg x="-12.35" y="240" width="24.7" height="1" viewBox="0.5 -72.9 67.3 72.9" preserveAspectRatio="none"><text class="t">T</text></svg><svg x="-12.35" y="241" width="24.7" height="2" viewBox="5.5 -74.2 61.7 75.6" preserveAspectRatio="none"><text class="c">C</text></svg></g>
<g transform="translate(320)"><svg x="-12.35" y="231" width="24.7" height="3" viewBox="0.8 -72.9 75.8 72.9" preserveAspectRatio="none"><text class="a">A</text></svg><svg x="-12.35" y="234" width="24.7" height="3" viewBox="5.5 -74.2 61.7 75.6" preserveAspectRatio="none"><text class="c">C</text></svg><svg x="-12.35" y="237" width="24.7" height="3" viewBox="5.5 -74.2 71.1 75.6" preserveAspectRatio="none"><text class="g">G</text></svg><svg x="-12.35" y="240" width="24.7" height="3" viewBox="0.5 -72.9 67.3 72.9" preserveAspectRatio="none"><text class="t">T</text></svg></g>
<g transform="translate(346)"><svg x="-12.35" y="201" width="24.7" height="23" viewBox="0.8 -72.9 75.8 72.9" preserveAspectRatio="none"><text class="a">A</text></svg><svg x="-12.35" y="224" width="24.7" height="11" viewBox="5.5 -74.2 71.1 75.6" preserveAspectRatio="none"><text class="g">G</text></svg><svg x="-12.35" y="235" width="24.7" height="3" viewBox="0.5 -72.9 67.3 72.9" preserveAspectRatio="none"><text class="t">T</text></svg><svg x="-12.35" y="238" width="24.7" height="5" viewBox="5.5 -74.2 61.7 75.6" preserveAspectRatio="none"><text class="c">C</text></svg></g>
<g transform="translate(372)"><svg x="-12.35" y="183" width="24.7" height="35" viewBox="5.5 -74.2 71.1 75.6" preserveAspectRatio="none"><text class="g">G</text></svg><svg x="-12.35" y="218" width="24.7" height="17" viewBox="0.8 -72.9 75.8 72.9" preserveAspectRatio="none"><text class="a">A</text></svg><svg x="-12.35" y="235" width="24.7" height="5" viewBox="0.5 -72.9 67.3 72.9" preserveAspectRatio="none"><text class="t">T</text></svg><svg x="-12.35" y="240" width="24.7" height="3" viewBox="5.5 -74.2 61.7 75.6" preserveAspectRatio="none"><text class="c">C</text></svg></g>
<g transform="translate(398)"><svg x="-12.35" y="80" width="24.7" height="152" viewBox="5.5 -74.2 71.1 75.6" preserveAspectRatio="none"><text class="g">G</text></svg><svg x="-12.35" y="232" width="24.7" height="8" viewBox="0.8 -72.9 75.8 72.9" preserveAspectRatio="none"><text class="a">A</text></svg><svg x="-12.35" y="240" width="24.7" height="3" viewBox="0.5 -72.9 67.3 72.9" preserveAspectRatio="none"><text class="t">T</text></svg></g>
<g transform="translate(424)"><svg x="-12.35" y="83" width="24.7" height="147" viewBox="5.5 -74.2 71.1 75.6" preserveAspectRatio="none"><text class="g">G</text></svg><svg x="-12.35" y="230" width="24.7" height="10" viewBox="0.8 -72.9 75.8 72.9" preserveAspectRatio="none"><text class="a">A</text></svg><svg x="-12.35" y="240" width="24.7" height="3" viewBox="0.5 -72.9 67.3 72.9" preserveAspectRatio="none"><text class="t">T</text></svg></g>
<g transform="translate(450)"><svg x="-12.35" y="55" width="24.7" height="183" viewBox="0.8 -72.9 75.8 72.9" preserveAspectRatio="none"><text class="a">A</text></svg><svg x="-12.35" y="238" width="24.7" height="3" viewBox="5.5 -74.2 71.1 75.6" preserveAspectRatio="none"><text class="g">G</text></svg><svg x="-12.35" y="241" width="24.7" height="2" viewBox="0.5 -72.9 67.3 72.9" preserveAspectRatio="none"><text class="t">T</text></svg></g>
<g transform="translate(476)"><svg x="-12.35" y="73" width="24.7" height="160" viewBox="0.8 -72.9 75.8 72.9" preserveAspectRatio="none"><text class="a">A</text></svg><svg x="-12.35" y="233" width="24.7" height="7" viewBox="5.5 -74.2 71.1 75.6" preserveAspectRatio="none"><text class="g">G</text></svg><svg x="-12.35" y="240" width="24.7" height="3" viewBox="0.5 -72.9 67.3 72.9" preserveAspectRatio="none"><text class="t">T</text></svg></g>
<g transform="translate(502)"><svg x="-12.35" y="50" width="24.7" height="190" viewBox="5.5 -74.2 71.1 75.6" preserveAspectRatio="none"><text class="g">G</text></svg><svg x="-12.35" y="240" width="24.7" height="3" viewBox="0.8 -72.9 75.8 72.9" preserveAspectRatio="none"><text class="a">A</text></svg></g>
<g transform="translate(528)"><svg x="-12.35" y="188" width="24.7" height="25" viewBox="5.5 -74.2 61.7 75.6" preserveAspectRatio="none"><text class="c">C</text></svg><svg x="-12.35" y="213" width="24.7" height="23" viewBox="0.5 -72.9 67.3 72.9" preserveAspectRatio="none"><text class="t">T</text></svg><svg x="-12.35" y="236" width="24.7" height="3" viewBox="5.5 -74.2 71.1 75.6" preserveAspectRatio="none"><text class="g">G</text></svg><svg x="-12.35" y="239" width="24.7" height="4" viewBox="0.8 -72.9 75.8 72.9" preserveAspectRatio="none"><text class="a">A</text></svg></g>
<g transform="translate(554)"><svg x="-12.35" y="88" width="24.7" height="143" viewBox="0.8 -72.9 75.8 72.9" preserveAspectRatio="none"><text class="a">A</text></svg><svg x="-12.35" y="231" width="24.7" height="7" viewBox="0.5 -72.9 67.3 72.9" preserveAspectRatio="none"><text class="t">T</text></svg><svg x="-12.35" y="238" width="24.7" height="5" viewBox="5.5 -74.2 71.1 75.6" preserveAspectRatio="none"><text class="g">G</text></svg></g>
<g transform="translate(580)"><svg x="-12.35" y="86" width="24.7" height="145" viewBox="5.5 -74.2 71.1 75.6" preserveAspectRatio="none"><text class="g">G</text></svg><svg x="-12.35" y="231" width="24.7" height="6" viewBox="0.8 -72.9 75.8 72.9" preserveAspectRatio="none"><text class="a">A</text></svg><svg x="-12.35" y="237" width="24.7" height="4" viewBox="5.5 -74.2 61.7 75.6" preserveAspectRatio="none"><text class="c">C</text></svg><svg x="-12.35" y="241" width="24.7" height="2" viewBox="0.5 -72.9 67.3 72.9" preserveAspectRatio="none"><text class="t">T</text></svg></g>
<g transform="translate(606)"><svg x="-12.35" y="221" width="24.7" height="9" viewBox="5.5 -74.2 61.7 75.6" preserveAspectRatio="none"><text class="c">C</text></svg><svg x="-12.35" y="230" width="24.7" height="5" viewBox="0.5 -72.9 67.3 72.9" preserveAspectRatio="none"><text class="t">T</text></svg><svg x="-12.35" y="235" width="24.7" height="6" viewBox="0.8 -72.9 75.8 72.9" preserveAspectRatio="none"><text class="a">A</text></svg><svg x="-12.35" y="241" width="24.7" height="2" viewBox="5.5 -74.2 71.1 75.6" preserveAspectRatio="none"><text class="g">G</text></svg></g>
<g transform="translate(632)"><svg x="-12.35" y="132" width="24.7" height="91" viewBox="0.5 -72.9 67.3 72.9" preserveAspectRatio="none"><text class="t">T</text></svg><svg x="-12.35" y="223" width="24.7" height="7" viewBox="5.5 -74.2 61.7 75.6" preserveAspectRatio="none"><text class="c">C</text></svg><svg x="-12.35" y="230" width="24.7" height="7" viewBox="5.5 -74.2 71.1 75.6" preserveAspectRatio="none"><text class="g">G</text></svg><svg x="-12.35" y="237" width="24.7" height="6" viewBox="0.8 -72.9 75.8 72.9" preserveAspectRatio="none"><text class="a">A</text></svg></g>
<g transform="translate(658)"><svg x="-12.35" y="154" width="24.7" height="55" viewBox="5.5 -74.2 71.1 75.6" preserveAspectRatio="none"><text class="g">G</text></svg><svg x="-12.35" y="209" width="24.7" height="31" viewBox="0.5 -72.9 67.3 72.9" preserveAspectRatio="none"><text class="t">T</text></svg><svg x="-12.35" y="240" width="24.7" height="3" viewBox="0.8 -72.9 75.8 72.9" preserveAspectRatio="none"><text class="a">A</text></svg></g>
<g transform="translate(684)"><svg x="-12.35" y="129" width="24.7" height="93" viewBox="5.5 -74.2 61.7 75.6" preserveAspectRatio="none"><text class="c">C</text></svg><svg x="-12.35" y="222" width="24.7" height="10" viewBox="0.5 -72.9 67.3 72.9" preserveAspectRatio="none"><text class="t">T</text></svg><svg x="-12.35" y="232" width="24.7" height="11" viewBox="0.8 -72.9 75.8 72.9" preserveAspectRatio="none"><text class="a">A</text></svg></g>
<g transform="translate(710)"><svg x="-12.35" y="157" width="24.7" height="59" viewBox="0.5 -72.9 67.3 72.9" preserveAspectRatio="none"><text class="t">T</text></svg><svg x="-12.35" y="216" width="24.7" height="21" viewBox="5.5 -74.2 61.7 75.6" preserveAspectRatio="none"><text class="c">C</text></svg><svg x="-12.35" y="237" width="24.7" height="6" viewBox="0.8 -72.9 75.8 72.9" preserveAspectRatio="none"><text class="a">A</text></svg></g>
<g transform="translate(736)"><svg x="-12.35" y="233" width="24.7" height="4" viewBox="5.5 -74.2 61.7 75.6" preserveAspectRatio="none"><text class="c">C</text></svg><svg x="-12.35" y="237" width="24.7" height="3" viewBox="0.5 -72.9 67.3 72.9" preserveAspectRatio="none"><text class="t">T</text></svg><svg x="-12.35" y="240" width="24.7" height="3" viewBox="0.8 -72.9 75.8 72.9" preserveAspectRatio="none"><text class="a">A</text></svg></g>
<g transform="translate(788)"><svg x="-12.35" y="240" width="24.7" height="1" viewBox="5.5 -74.2 71.1 75.6" preserveAspectRatio="none"><text class="g">G</text></svg><svg x="-12.35" y="241" width="24.7" height="2" viewBox="0.5 -72.9 67.3 72.9" preserveAspectRatio="none"><text class="t">T</text></svg></g>
<g transform="translate(814)"><svg x="-12.35" y="241" width="24.7" height="2" viewBox="0.5 -72.9 67.3 72.9" preserveAspectRatio="none"><text class="t">T</text></svg></g>
<g transform="translate(840)"><svg x="-12.35" y="242" width="24.7" height="1" viewBox="0.8 -72.9 75.8 72.9" preserveAspectRatio="none"><text class="a">A</text></svg></g>
<g transform="translate(866)"><svg x="-12.35" y="242" width="24.7" height="1" viewBox="0.8 -72.9 75.8 72.9" preserveAspectRatio="none"><text class="a">A</text></svg></g>
<g transform="translate(892)"><svg x="-12.35" y="242" width="24.7" height="1" viewBox="0.8 -72.9 75.8 72.9" preserveAspectRatio="none"><text class="a">A</text></svg></g>
</g>

<!-- P4 -->
<g transform="translate(0,300)">
<text class="ttl" x="0.5" y="37" textLength="845" lengthAdjust="spacingAndGlyphs">pattern_0, n=4839; subpattern_4, ns=668</text>
<path class="tk" d="M138 243v5M164 243v5M190 243v5M216 243v5M242 243v5M268 243v5M294 243v5M320 243v5M346 243v5M372 243v5M398 243v5M424 243v5M450 243v5M476 243v5M502 243v5M528 243v5M554 243v5M580 243v5M606 243v5M632 243v5M658 243v5M684 243v5M710 243v5M736 243v5M762 243v5M788 243v5M814 243v5M840 243v5M866 243v5M892 243v5M120 243h5M120 190h5M120 138h5M120 85h5"/>
<text class="yl" x="114.5" y="248">0.0</text><text class="yl" x="114.5" y="195">0.5</text><text class="yl" x="114.5" y="143">1.0</text><text class="yl" x="114.5" y="90">1.5</text>
<text class="xl" x="138" y="263">1</text><text class="xl" x="164" y="263">2</text><text class="xl" x="190" y="263">3</text><text class="xl" x="216" y="263">4</text><text class="xl" x="242" y="263">5</text><text class="xl" x="268" y="263">6</text><text class="xl" x="294" y="263">7</text><text class="xl" x="320" y="263">8</text><text class="xl" x="346" y="263">9</text><text class="xl" x="372" y="263">10</text><text class="xl" x="398" y="263">11</text><text class="xl" x="424" y="263">12</text><text class="xl" x="450" y="263">13</text><text class="xl" x="476" y="263">14</text><text class="xl" x="502" y="263">15</text><text class="xl" x="528" y="263">16</text><text class="xl" x="554" y="263">17</text><text class="xl" x="580" y="263">18</text><text class="xl" x="606" y="263">19</text><text class="xl" x="632" y="263">20</text><text class="xl" x="658" y="263">21</text><text class="xl" x="684" y="263">22</text><text class="xl" x="710" y="263">23</text><text class="xl" x="736" y="263">24</text><text class="xl" x="762" y="263">25</text><text class="xl" x="788" y="263">26</text><text class="xl" x="814" y="263">27</text><text class="xl" x="840" y="263">28</text><text class="xl" x="866" y="263">29</text><text class="xl" x="892" y="263">30</text>
<g transform="translate(164)"><svg x="-12.35" y="242" width="24.7" height="1" viewBox="5.5 -74.2 71.1 75.6" preserveAspectRatio="none"><text class="g">G</text></svg></g>
<g transform="translate(190)"><svg x="-12.35" y="231" width="24.7" height="4" viewBox="5.5 -74.2 71.1 75.6" preserveAspectRatio="none"><text class="g">G</text></svg><svg x="-12.35" y="235" width="24.7" height="4" viewBox="0.8 -72.9 75.8 72.9" preserveAspectRatio="none"><text class="a">A</text></svg><svg x="-12.35" y="239" width="24.7" height="2" viewBox="0.5 -72.9 67.3 72.9" preserveAspectRatio="none"><text class="t">T</text></svg><svg x="-12.35" y="241" width="24.7" height="2" viewBox="5.5 -74.2 61.7 75.6" preserveAspectRatio="none"><text class="c">C</text></svg></g>
<g transform="translate(216)"><svg x="-12.35" y="236" width="24.7" height="2" viewBox="5.5 -74.2 71.1 75.6" preserveAspectRatio="none"><text class="g">G</text></svg><svg x="-12.35" y="238" width="24.7" height="2" viewBox="0.5 -72.9 67.3 72.9" preserveAspectRatio="none"><text class="t">T</text></svg><svg x="-12.35" y="240" width="24.7" height="1" viewBox="0.8 -72.9 75.8 72.9" preserveAspectRatio="none"><text class="a">A</text></svg><svg x="-12.35" y="241" width="24.7" height="2" viewBox="5.5 -74.2 61.7 75.6" preserveAspectRatio="none"><text class="c">C</text></svg></g>
<g transform="translate(242)"><svg x="-12.35" y="236" width="24.7" height="3" viewBox="5.5 -74.2 61.7 75.6" preserveAspectRatio="none"><text class="c">C</text></svg><svg x="-12.35" y="239" width="24.7" height="2" viewBox="0.8 -72.9 75.8 72.9" preserveAspectRatio="none"><text class="a">A</text></svg><svg x="-12.35" y="241" width="24.7" height="2" viewBox="5.5 -74.2 71.1 75.6" preserveAspectRatio="none"><text class="g">G</text></svg></g>
<g transform="translate(268)"><svg x="-12.35" y="214" width="24.7" height="14" viewBox="5.5 -74.2 61.7 75.6" preserveAspectRatio="none"><text class="c">C</text></svg><svg x="-12.35" y="228" width="24.7" height="6" viewBox="0.8 -72.9 75.8 72.9" preserveAspectRatio="none"><text class="a">A</text></svg><svg x="-12.35" y="234" width="24.7" height="4" viewBox="0.5 -72.9 67.3 72.9" preserveAspectRatio="none"><text class="t">T</text></svg><svg x="-12.35" y="238" width="24.7" height="5" viewBox="5.5 -74.2 71.1 75.6" preserveAspectRatio="none"><text class="g">G</text></svg></g>
<g transform="translate(294)"><svg x="-12.35" y="224" width="24.7" height="8" viewBox="5.5 -74.2 61.7 75.6" preserveAspectRatio="none"><text class="c">C</text></svg><svg x="-12.35" y="232" width="24.7" height="4" viewBox="0.5 -72.9 67.3 72.9" preserveAspectRatio="none"><text class="t">T</text></svg><svg x="-12.35" y="236" width="24.7" height="4" viewBox="0.8 -72.9 75.8 72.9" preserveAspectRatio="none"><text class="a">A</text></svg><svg x="-12.35" y="240" width="24.7" height="3" viewBox="5.5 -74.2 71.1 75.6" preserveAspectRatio="none"><text class="g">G</text></svg></g>
<g transform="translate(320)"><svg x="-12.35" y="192" width="24.7" height="31" viewBox="5.5 -74.2 61.7 75.6" preserveAspectRatio="none"><text class="c">C</text></svg><svg x="-12.35" y="223" width="24.7" height="9" viewBox="0.8 -72.9 75.8 72.9" preserveAspectRatio="none"><text class="a">A</text></svg><svg x="-12.35" y="232" width="24.7" height="6" viewBox="5.5 -74.2 71.1 75.6" preserveAspectRatio="none"><text class="g">G</text></svg><svg x="-12.35" y="238" width="24.7" height="5" viewBox="0.5 -72.9 67.3 72.9" preserveAspectRatio="none"><text class="t">T</text></svg></g>
<g transform="translate(346)"><svg x="-12.35" y="126" width="24.7" height="97" viewBox="0.8 -72.9 75.8 72.9" preserveAspectRatio="none"><text class="a">A</text></svg><svg x="-12.35" y="223" width="24.7" height="10" viewBox="5.5 -74.2 71.1 75.6" preserveAspectRatio="none"><text class="g">G</text></svg><svg x="-12.35" y="233" width="24.7" height="5" viewBox="0.5 -72.9 67.3 72.9" preserveAspectRatio="none"><text class="t">T</text></svg><svg x="-12.35" y="238" width="24.7" height="5" viewBox="5.5 -74.2 61.7 75.6" preserveAspectRatio="none"><text class="c">C</text></svg></g>
<g transform="translate(372)"><svg x="-12.35" y="73" width="24.7" height="159" viewBox="5.5 -74.2 71.1 75.6" preserveAspectRatio="none"><text class="g">G</text></svg><svg x="-12.35" y="232" width="24.7" height="8" viewBox="0.8 -72.9 75.8 72.9" preserveAspectRatio="none"><text class="a">A</text></svg><svg x="-12.35" y="240" width="24.7" height="3" viewBox="5.5 -74.2 61.7 75.6" preserveAspectRatio="none"><text class="c">C</text></svg></g>
<g transform="translate(398)"><svg x="-12.35" y="60" width="24.7" height="175" viewBox="5.5 -74.2 71.1 75.6" preserveAspectRatio="none"><text class="g">G</text></svg><svg x="-12.35" y="235" width="24.7" height="6" viewBox="0.8 -72.9 75.8 72.9" preserveAspectRatio="none"><text class="a">A</text></svg><svg x="-12.35" y="241" width="24.7" height="2" viewBox="0.5 -72.9 67.3 72.9" preserveAspectRatio="none"><text class="t">T</text></svg></g>
<g transform="translate(424)"><svg x="-12.35" y="70" width="24.7" height="162" viewBox="5.5 -74.2 71.1 75.6" preserveAspectRatio="none"><text class="g">G</text></svg><svg x="-12.35" y="232" width="24.7" height="8" viewBox="0.8 -72.9 75.8 72.9" preserveAspectRatio="none"><text class="a">A</text></svg><svg x="-12.35" y="240" width="24.7" height="3" viewBox="5.5 -74.2 61.7 75.6" preserveAspectRatio="none"><text class="c">C</text></svg></g>
<g transform="translate(450)"><svg x="-12.35" y="51" width="24.7" height="187" viewBox="0.8 -72.9 75.8 72.9" preserveAspectRatio="none"><text class="a">A</text></svg><svg x="-12.35" y="238" width="24.7" height="2" viewBox="5.5 -74.2 71.1 75.6" preserveAspectRatio="none"><text class="g">G</text></svg><svg x="-12.35" y="240" width="24.7" height="3" viewBox="0.5 -72.9 67.3 72.9" preserveAspectRatio="none"><text class="t">T</text></svg></g>
<g transform="translate(476)"><svg x="-12.35" y="90" width="24.7" height="138" viewBox="0.8 -72.9 75.8 72.9" preserveAspectRatio="none"><text class="a">A</text></svg><svg x="-12.35" y="228" width="24.7" height="12" viewBox="5.5 -74.2 71.1 75.6" preserveAspectRatio="none"><text class="g">G</text></svg><svg x="-12.35" y="240" width="24.7" height="3" viewBox="0.5 -72.9 67.3 72.9" preserveAspectRatio="none"><text class="t">T</text></svg></g>
<g transform="translate(502)"><svg x="-12.35" y="50" width="24.7" height="188" viewBox="5.5 -74.2 71.1 75.6" preserveAspectRatio="none"><text class="g">G</text></svg><svg x="-12.35" y="238" width="24.7" height="5" viewBox="0.5 -72.9 67.3 72.9" preserveAspectRatio="none"><text class="t">T</text></svg></g>
<g transform="translate(528)"><svg x="-12.35" y="213" width="24.7" height="15" viewBox="5.5 -74.2 61.7 75.6" preserveAspectRatio="none"><text class="c">C</text></svg><svg x="-12.35" y="228" width="24.7" height="5" viewBox="0.5 -72.9 67.3 72.9" preserveAspectRatio="none"><text class="t">T</text></svg><svg x="-12.35" y="233" width="24.7" height="5" viewBox="5.5 -74.2 71.1 75.6" preserveAspectRatio="none"><text class="g">G</text></svg><svg x="-12.35" y="238" width="24.7" height="5" viewBox="0.8 -72.9 75.8 72.9" preserveAspectRatio="none"><text class="a">A</text></svg></g>
<g transform="translate(554)"><svg x="-12.35" y="69" width="24.7" height="163" viewBox="5.5 -74.2 61.7 75.6" preserveAspectRatio="none"><text class="c">C</text></svg><svg x="-12.35" y="232" width="24.7" height="8" viewBox="0.8 -72.9 75.8 72.9" preserveAspectRatio="none"><text class="a">A</text></svg><svg x="-12.35" y="240" width="24.7" height="3" viewBox="0.5 -72.9 67.3 72.9" preserveAspectRatio="none"><text class="t">T</text></svg></g>
<g transform="translate(580)"><svg x="-12.35" y="83" width="24.7" height="145" viewBox="0.8 -72.9 75.8 72.9" preserveAspectRatio="none"><text class="a">A</text></svg><svg x="-12.35" y="228" width="24.7" height="10" viewBox="5.5 -74.2 61.7 75.6" preserveAspectRatio="none"><text class="c">C</text></svg><svg x="-12.35" y="238" width="24.7" height="5" viewBox="0.5 -72.9 67.3 72.9" preserveAspectRatio="none"><text class="t">T</text></svg></g>
<g transform="translate(606)"><svg x="-12.35" y="161" width="24.7" height="59" viewBox="0.5 -72.9 67.3 72.9" preserveAspectRatio="none"><text class="t">T</text></svg><svg x="-12.35" y="220" width="24.7" height="13" viewBox="5.5 -74.2 61.7 75.6" preserveAspectRatio="none"><text class="c">C</text></svg><svg x="-12.35" y="233" width="24.7" height="5" viewBox="5.5 -74.2 71.1 75.6" preserveAspectRatio="none"><text class="g">G</text></svg><svg x="-12.35" y="238" width="24.7" height="5" viewBox="0.8 -72.9 75.8 72.9" preserveAspectRatio="none"><text class="a">A</text></svg></g>
<g transform="translate(632)"><svg x="-12.35" y="153" width="24.7" height="66" viewBox="0.5 -72.9 67.3 72.9" preserveAspectRatio="none"><text class="t">T</text></svg><svg x="-12.35" y="219" width="24.7" height="15" viewBox="5.5 -74.2 61.7 75.6" preserveAspectRatio="none"><text class="c">C</text></svg><svg x="-12.35" y="234" width="24.7" height="9" viewBox="5.5 -74.2 71.1 75.6" preserveAspectRatio="none"><text class="g">G</text></svg></g>
<g transform="translate(658)"><svg x="-12.35" y="200" width="24.7" height="20" viewBox="0.5 -72.9 67.3 72.9" preserveAspectRatio="none"><text class="t">T</text></svg><svg x="-12.35" y="220" width="24.7" height="13" viewBox="5.5 -74.2 71.1 75.6" preserveAspectRatio="none"><text class="g">G</text></svg><svg x="-12.35" y="233" width="24.7" height="8" viewBox="5.5 -74.2 61.7 75.6" preserveAspectRatio="none"><text class="c">C</text></svg><svg x="-12.35" y="241" width="24.7" height="2" viewBox="0.8 -72.9 75.8 72.9" preserveAspectRatio="none"><text class="a">A</text></svg></g>
<g transform="translate(684)"><svg x="-12.35" y="118" width="24.7" height="104" viewBox="5.5 -74.2 61.7 75.6" preserveAspectRatio="none"><text class="c">C</text></svg><svg x="-12.35" y="222" width="24.7" height="14" viewBox="0.5 -72.9 67.3 72.9" preserveAspectRatio="none"><text class="t">T</text></svg><svg x="-12.35" y="236" width="24.7" height="7" viewBox="0.8 -72.9 75.8 72.9" preserveAspectRatio="none"><text class="a">A</text></svg></g>
<g transform="translate(710)"><svg x="-12.35" y="133" width="24.7" height="89" viewBox="0.5 -72.9 67.3 72.9" preserveAspectRatio="none"><text class="t">T</text></svg><svg x="-12.35" y="222" width="24.7" height="14" viewBox="5.5 -74.2 61.7 75.6" preserveAspectRatio="none"><text class="c">C</text></svg><svg x="-12.35" y="236" width="24.7" height="5" viewBox="0.8 -72.9 75.8 72.9" preserveAspectRatio="none"><text class="a">A</text></svg><svg x="-12.35" y="241" width="24.7" height="2" viewBox="5.5 -74.2 71.1 75.6" preserveAspectRatio="none"><text class="g">G</text></svg></g>
<g transform="translate(736)"><svg x="-12.35" y="222" width="24.7" height="10" viewBox="5.5 -74.2 71.1 75.6" preserveAspectRatio="none"><text class="g">G</text></svg><svg x="-12.35" y="232" width="24.7" height="4" viewBox="0.5 -72.9 67.3 72.9" preserveAspectRatio="none"><text class="t">T</text></svg><svg x="-12.35" y="236" width="24.7" height="4" viewBox="0.8 -72.9 75.8 72.9" preserveAspectRatio="none"><text class="a">A</text></svg><svg x="-12.35" y="240" width="24.7" height="3" viewBox="5.5 -74.2 61.7 75.6" preserveAspectRatio="none"><text class="c">C</text></svg></g>
<g transform="translate(762)"><svg x="-12.35" y="224" width="24.7" height="8" viewBox="0.8 -72.9 75.8 72.9" preserveAspectRatio="none"><text class="a">A</text></svg><svg x="-12.35" y="232" width="24.7" height="3" viewBox="5.5 -74.2 71.1 75.6" preserveAspectRatio="none"><text class="g">G</text></svg><svg x="-12.35" y="235" width="24.7" height="4" viewBox="0.5 -72.9 67.3 72.9" preserveAspectRatio="none"><text class="t">T</text></svg><svg x="-12.35" y="239" width="24.7" height="4" viewBox="5.5 -74.2 61.7 75.6" preserveAspectRatio="none"><text class="c">C</text></svg></g>
<g transform="translate(788)"><svg x="-12.35" y="235" width="24.7" height="3" viewBox="5.5 -74.2 61.7 75.6" preserveAspectRatio="none"><text class="c">C</text></svg><svg x="-12.35" y="238" width="24.7" height="2" viewBox="0.5 -72.9 67.3 72.9" preserveAspectRatio="none"><text class="t">T</text></svg><svg x="-12.35" y="240" width="24.7" height="3" viewBox="0.8 -72.9 75.8 72.9" preserveAspectRatio="none"><text class="a">A</text></svg></g>
<g transform="translate(814)"><svg x="-12.35" y="228" width="24.7" height="7" viewBox="0.5 -72.9 67.3 72.9" preserveAspectRatio="none"><text class="t">T</text></svg><svg x="-12.35" y="235" width="24.7" height="3" viewBox="5.5 -74.2 61.7 75.6" preserveAspectRatio="none"><text class="c">C</text></svg><svg x="-12.35" y="238" width="24.7" height="2" viewBox="0.8 -72.9 75.8 72.9" preserveAspectRatio="none"><text class="a">A</text></svg><svg x="-12.35" y="240" width="24.7" height="3" viewBox="5.5 -74.2 71.1 75.6" preserveAspectRatio="none"><text class="g">G</text></svg></g>
<g transform="translate(840)"><svg x="-12.35" y="236" width="24.7" height="3" viewBox="0.5 -72.9 67.3 72.9" preserveAspectRatio="none"><text class="t">T</text></svg><svg x="-12.35" y="239" width="24.7" height="2" viewBox="0.8 -72.9 75.8 72.9" preserveAspectRatio="none"><text class="a">A</text></svg><svg x="-12.35" y="241" width="24.7" height="2" viewBox="5.5 -74.2 71.1 75.6" preserveAspectRatio="none"><text class="g">G</text></svg></g>
<g transform="translate(866)"><svg x="-12.35" y="232" width="24.7" height="5" viewBox="0.5 -72.9 67.3 72.9" preserveAspectRatio="none"><text class="t">T</text></svg><svg x="-12.35" y="237" width="24.7" height="3" viewBox="5.5 -74.2 71.1 75.6" preserveAspectRatio="none"><text class="g">G</text></svg><svg x="-12.35" y="240" width="24.7" height="3" viewBox="0.8 -72.9 75.8 72.9" preserveAspectRatio="none"><text class="a">A</text></svg></g>
<g transform="translate(892)"><svg x="-12.35" y="240" width="24.7" height="2" viewBox="0.8 -72.9 75.8 72.9" preserveAspectRatio="none"><text class="a">A</text></svg><svg x="-12.35" y="242" width="24.7" height="1" viewBox="5.5 -74.2 61.7 75.6" preserveAspectRatio="none"><text class="c">C</text></svg></g>
</g>

<!-- P5 -->
<g transform="translate(1050,300)">
<text class="ttl" x="0.5" y="37" textLength="845" lengthAdjust="spacingAndGlyphs">pattern_0, n=4839; subpattern_5, ns=382</text>
<path class="tk" d="M138 243v5M164 243v5M190 243v5M216 243v5M242 243v5M268 243v5M294 243v5M320 243v5M346 243v5M372 243v5M398 243v5M424 243v5M450 243v5M476 243v5M502 243v5M528 243v5M554 243v5M580 243v5M606 243v5M632 243v5M658 243v5M684 243v5M710 243v5M736 243v5M762 243v5M788 243v5M814 243v5M840 243v5M866 243v5M892 243v5M120 243h5M120 186h5M120 130h5M120 74h5"/>
<text class="yl" x="114.5" y="248">0.0</text><text class="yl" x="114.5" y="191">0.5</text><text class="yl" x="114.5" y="135">1.0</text><text class="yl" x="114.5" y="79">1.5</text>
<text class="xl" x="138" y="263">1</text><text class="xl" x="164" y="263">2</text><text class="xl" x="190" y="263">3</text><text class="xl" x="216" y="263">4</text><text class="xl" x="242" y="263">5</text><text class="xl" x="268" y="263">6</text><text class="xl" x="294" y="263">7</text><text class="xl" x="320" y="263">8</text><text class="xl" x="346" y="263">9</text><text class="xl" x="372" y="263">10</text><text class="xl" x="398" y="263">11</text><text class="xl" x="424" y="263">12</text><text class="xl" x="450" y="263">13</text><text class="xl" x="476" y="263">14</text><text class="xl" x="502" y="263">15</text><text class="xl" x="528" y="263">16</text><text class="xl" x="554" y="263">17</text><text class="xl" x="580" y="263">18</text><text class="xl" x="606" y="263">19</text><text class="xl" x="632" y="263">20</text><text class="xl" x="658" y="263">21</text><text class="xl" x="684" y="263">22</text><text class="xl" x="710" y="263">23</text><text class="xl" x="736" y="263">24</text><text class="xl" x="762" y="263">25</text><text class="xl" x="788" y="263">26</text><text class="xl" x="814" y="263">27</text><text class="xl" x="840" y="263">28</text><text class="xl" x="866" y="263">29</text><text class="xl" x="892" y="263">30</text>
<g transform="translate(138)"><svg x="-12.35" y="240" width="24.7" height="1" viewBox="0.8 -72.9 75.8 72.9" preserveAspectRatio="none"><text class="a">A</text></svg><svg x="-12.35" y="241" width="24.7" height="1" viewBox="0.5 -72.9 67.3 72.9" preserveAspectRatio="none"><text class="t">T</text></svg><svg x="-12.35" y="242" width="24.7" height="1" viewBox="5.5 -74.2 61.7 75.6" preserveAspectRatio="none"><text class="c">C</text></svg></g>
<g transform="translate(164)"><svg x="-12.35" y="239" width="24.7" height="2" viewBox="5.5 -74.2 71.1 75.6" preserveAspectRatio="none"><text class="g">G</text></svg><svg x="-12.35" y="241" width="24.7" height="1" viewBox="0.5 -72.9 67.3 72.9" preserveAspectRatio="none"><text class="t">T</text></svg><svg x="-12.35" y="242" width="24.7" height="1" viewBox="5.5 -74.2 61.7 75.6" preserveAspectRatio="none"><text class="c">C</text></svg></g>
<g transform="translate(190)"><svg x="-12.35" y="239" width="24.7" height="1" viewBox="0.8 -72.9 75.8 72.9" preserveAspectRatio="none"><text class="a">A</text></svg><svg x="-12.35" y="240" width="24.7" height="2" viewBox="0.5 -72.9 67.3 72.9" preserveAspectRatio="none"><text class="t">T</text></svg><svg x="-12.35" y="242" width="24.7" height="1" viewBox="5.5 -74.2 61.7 75.6" preserveAspectRatio="none"><text class="c">C</text></svg></g>
<g transform="translate(216)"><svg x="-12.35" y="239" width="24.7" height="2" viewBox="0.8 -72.9 75.8 72.9" preserveAspectRatio="none"><text class="a">A</text></svg><svg x="-12.35" y="241" width="24.7" height="1" viewBox="0.5 -72.9 67.3 72.9" preserveAspectRatio="none"><text class="t">T</text></svg><svg x="-12.35" y="242" width="24.7" height="1" viewBox="5.5 -74.2 61.7 75.6" preserveAspectRatio="none"><text class="c">C</text></svg></g>
<g transform="translate(242)"><svg x="-12.35" y="241" width="24.7" height="2" viewBox="0.5 -72.9 67.3 72.9" preserveAspectRatio="none"><text class="t">T</text></svg></g>
<g transform="translate(268)"><svg x="-12.35" y="239" width="24.7" height="2" viewBox="0.8 -72.9 75.8 72.9" preserveAspectRatio="none"><text class="a">A</text></svg><svg x="-12.35" y="241" width="24.7" height="1" viewBox="0.5 -72.9 67.3 72.9" preserveAspectRatio="none"><text class="t">T</text></svg><svg x="-12.35" y="242" width="24.7" height="1" viewBox="5.5 -74.2 61.7 75.6" preserveAspectRatio="none"><text class="c">C</text></svg></g>
<g transform="translate(294)"><svg x="-12.35" y="237" width="24.7" height="2" viewBox="0.5 -72.9 67.3 72.9" preserveAspectRatio="none"><text class="t">T</text></svg><svg x="-12.35" y="239" width="24.7" height="2" viewBox="0.8 -72.9 75.8 72.9" preserveAspectRatio="none"><text class="a">A</text></svg><svg x="-12.35" y="241" width="24.7" height="2" viewBox="5.5 -74.2 71.1 75.6" preserveAspectRatio="none"><text class="g">G</text></svg></g>
<g transform="translate(320)"><svg x="-12.35" y="232" width="24.7" height="5" viewBox="0.8 -72.9 75.8 72.9" preserveAspectRatio="none"><text class="a">A</text></svg><svg x="-12.35" y="237" width="24.7" height="3" viewBox="5.5 -74.2 71.1 75.6" preserveAspectRatio="none"><text class="g">G</text></svg><svg x="-12.35" y="240" width="24.7" height="3" viewBox="0.5 -72.9 67.3 72.9" preserveAspectRatio="none"><text class="t">T</text></svg></g>
<g transform="translate(346)"><svg x="-12.35" y="194" width="24.7" height="26" viewBox="0.8 -72.9 75.8 72.9" preserveAspectRatio="none"><text class="a">A</text></svg><svg x="-12.35" y="220" width="24.7" height="15" viewBox="5.5 -74.2 71.1 75.6" preserveAspectRatio="none"><text class="g">G</text></svg><svg x="-12.35" y="235" width="24.7" height="5" viewBox="0.5 -72.9 67.3 72.9" preserveAspectRatio="none"><text class="t">T</text></svg><svg x="-12.35" y="240" width="24.7" height="3" viewBox="5.5 -74.2 61.7 75.6" preserveAspectRatio="none"><text class="c">C</text></svg></g>
<g transform="translate(372)"><svg x="-12.35" y="197" width="24.7" height="24" viewBox="5.5 -74.2 71.1 75.6" preserveAspectRatio="none"><text class="g">G</text></svg><svg x="-12.35" y="221" width="24.7" height="12" viewBox="0.8 -72.9 75.8 72.9" preserveAspectRatio="none"><text class="a">A</text></svg><svg x="-12.35" y="233" width="24.7" height="8" viewBox="0.5 -72.9 67.3 72.9" preserveAspectRatio="none"><text class="t">T</text></svg><svg x="-12.35" y="241" width="24.7" height="2" viewBox="5.5 -74.2 61.7 75.6" preserveAspectRatio="none"><text class="c">C</text></svg></g>
<g transform="translate(398)"><svg x="-12.35" y="58" width="24.7" height="174" viewBox="5.5 -74.2 71.1 75.6" preserveAspectRatio="none"><text class="g">G</text></svg><svg x="-12.35" y="232" width="24.7" height="8" viewBox="0.8 -72.9 75.8 72.9" preserveAspectRatio="none"><text class="a">A</text></svg><svg x="-12.35" y="240" width="24.7" height="3" viewBox="0.5 -72.9 67.3 72.9" preserveAspectRatio="none"><text class="t">T</text></svg></g>
<g transform="translate(424)"><svg x="-12.35" y="58" width="24.7" height="173" viewBox="5.5 -74.2 71.1 75.6" preserveAspectRatio="none"><text class="g">G</text></svg><svg x="-12.35" y="231" width="24.7" height="10" viewBox="0.8 -72.9 75.8 72.9" preserveAspectRatio="none"><text class="a">A</text></svg><svg x="-12.35" y="241" width="24.7" height="2" viewBox="0.5 -72.9 67.3 72.9" preserveAspectRatio="none"><text class="t">T</text></svg></g>
<g transform="translate(450)"><svg x="-12.35" y="58" width="24.7" height="174" viewBox="0.8 -72.9 75.8 72.9" preserveAspectRatio="none"><text class="a">A</text></svg><svg x="-12.35" y="232" width="24.7" height="5" viewBox="5.5 -74.2 61.7 75.6" preserveAspectRatio="none"><text class="c">C</text></svg><svg x="-12.35" y="237" width="24.7" height="4" viewBox="5.5 -74.2 71.1 75.6" preserveAspectRatio="none"><text class="g">G</text></svg><svg x="-12.35" y="241" width="24.7" height="2" viewBox="0.5 -72.9 67.3 72.9" preserveAspectRatio="none"><text class="t">T</text></svg></g>
<g transform="translate(476)"><svg x="-12.35" y="76" width="24.7" height="151" viewBox="0.8 -72.9 75.8 72.9" preserveAspectRatio="none"><text class="a">A</text></svg><svg x="-12.35" y="227" width="24.7" height="13" viewBox="5.5 -74.2 71.1 75.6" preserveAspectRatio="none"><text class="g">G</text></svg><svg x="-12.35" y="240" width="24.7" height="3" viewBox="5.5 -74.2 61.7 75.6" preserveAspectRatio="none"><text class="c">C</text></svg></g>
<g transform="translate(502)"><svg x="-12.35" y="50" width="24.7" height="184" viewBox="5.5 -74.2 71.1 75.6" preserveAspectRatio="none"><text class="g">G</text></svg><svg x="-12.35" y="234" width="24.7" height="7" viewBox="0.8 -72.9 75.8 72.9" preserveAspectRatio="none"><text class="a">A</text></svg><svg x="-12.35" y="241" width="24.7" height="2" viewBox="0.5 -72.9 67.3 72.9" preserveAspectRatio="none"><text class="t">T</text></svg></g>
<g transform="translate(528)"><svg x="-12.35" y="226" width="24.7" height="6" viewBox="5.5 -74.2 61.7 75.6" preserveAspectRatio="none"><text class="c">C</text></svg><svg x="-12.35" y="232" width="24.7" height="3" viewBox="0.5 -72.9 67.3 72.9" preserveAspectRatio="none"><text class="t">T</text></svg><svg x="-12.35" y="235" width="24.7" height="8" viewBox="0.8 -72.9 75.8 72.9" preserveAspectRatio="none"><text class="a">A</text></svg></g>
<g transform="translate(554)"><svg x="-12.35" y="125" width="24.7" height="95" viewBox="0.8 -72.9 75.8 72.9" preserveAspectRatio="none"><text class="a">A</text></svg><svg x="-12.35" y="220" width="24.7" height="13" viewBox="0.5 -72.9 67.3 72.9" preserveAspectRatio="none"><text class="t">T</text></svg><svg x="-12.35" y="233" width="24.7" height="5" viewBox="5.5 -74.2 61.7 75.6" preserveAspectRatio="none"><text class="c">C</text></svg><svg x="-12.35" y="238" width="24.7" height="5" viewBox="5.5 -74.2 71.1 75.6" preserveAspectRatio="none"><text class="g">G</text></svg></g>
<g transform="translate(580)"><svg x="-12.35" y="67" width="24.7" height="163" viewBox="0.8 -72.9 75.8 72.9" preserveAspectRatio="none"><text class="a">A</text></svg><svg x="-12.35" y="230" width="24.7" height="8" viewBox="5.5 -74.2 71.1 75.6" preserveAspectRatio="none"><text class="g">G</text></svg><svg x="-12.35" y="238" width="24.7" height="3" viewBox="5.5 -74.2 61.7 75.6" preserveAspectRatio="none"><text class="c">C</text></svg><svg x="-12.35" y="241" width="24.7" height="2" viewBox="0.5 -72.9 67.3 72.9" preserveAspectRatio="none"><text class="t">T</text></svg></g>
<g transform="translate(606)"><svg x="-12.35" y="165" width="24.7" height="50" viewBox="0.5 -72.9 67.3 72.9" preserveAspectRatio="none"><text class="t">T</text></svg><svg x="-12.35" y="215" width="24.7" height="20" viewBox="5.5 -74.2 61.7 75.6" preserveAspectRatio="none"><text class="c">C</text></svg><svg x="-12.35" y="235" width="24.7" height="5" viewBox="0.8 -72.9 75.8 72.9" preserveAspectRatio="none"><text class="a">A</text></svg><svg x="-12.35" y="240" width="24.7" height="3" viewBox="5.5 -74.2 71.1 75.6" preserveAspectRatio="none"><text class="g">G</text></svg></g>
<g transform="translate(632)"><svg x="-12.35" y="63" width="24.7" height="169" viewBox="0.5 -72.9 67.3 72.9" preserveAspectRatio="none"><text class="t">T</text></svg><svg x="-12.35" y="232" width="24.7" height="5" viewBox="5.5 -74.2 61.7 75.6" preserveAspectRatio="none"><text class="c">C</text></svg><svg x="-12.35" y="237" width="24.7" height="4" viewBox="5.5 -74.2 71.1 75.6" preserveAspectRatio="none"><text class="g">G</text></svg><svg x="-12.35" y="241" width="24.7" height="2" viewBox="0.8 -72.9 75.8 72.9" preserveAspectRatio="none"><text class="a">A</text></svg></g>
<g transform="translate(658)"><svg x="-12.35" y="86" width="24.7" height="139" viewBox="0.5 -72.9 67.3 72.9" preserveAspectRatio="none"><text class="t">T</text></svg><svg x="-12.35" y="225" width="24.7" height="13" viewBox="5.5 -74.2 71.1 75.6" preserveAspectRatio="none"><text class="g">G</text></svg><svg x="-12.35" y="238" width="24.7" height="5" viewBox="0.8 -72.9 75.8 72.9" preserveAspectRatio="none"><text class="a">A</text></svg></g>
<g transform="translate(684)"><svg x="-12.35" y="60" width="24.7" height="170" viewBox="5.5 -74.2 61.7 75.6" preserveAspectRatio="none"><text class="c">C</text></svg><svg x="-12.35" y="230" width="24.7" height="10" viewBox="0.5 -72.9 67.3 72.9" preserveAspectRatio="none"><text class="t">T</text></svg><svg x="-12.35" y="240" width="24.7" height="3" viewBox="0.8 -72.9 75.8 72.9" preserveAspectRatio="none"><text class="a">A</text></svg></g>
<g transform="translate(710)"><svg x="-12.35" y="130" width="24.7" height="82" viewBox="0.5 -72.9 67.3 72.9" preserveAspectRatio="none"><text class="t">T</text></svg><svg x="-12.35" y="212" width="24.7" height="28" viewBox="5.5 -74.2 61.7 75.6" preserveAspectRatio="none"><text class="c">C</text></svg><svg x="-12.35" y="240" width="24.7" height="3" viewBox="0.8 -72.9 75.8 72.9" preserveAspectRatio="none"><text class="a">A</text></svg></g>
<g transform="translate(736)"><svg x="-12.35" y="223" width="24.7" height="9" viewBox="5.5 -74.2 61.7 75.6" preserveAspectRatio="none"><text class="c">C</text></svg><svg x="-12.35" y="232" width="24.7" height="3" viewBox="5.5 -74.2 71.1 75.6" preserveAspectRatio="none"><text class="g">G</text></svg><svg x="-12.35" y="235" width="24.7" height="3" viewBox="0.5 -72.9 67.3 72.9" preserveAspectRatio="none"><text class="t">T</text></svg><svg x="-12.35" y="238" width="24.7" height="5" viewBox="0.8 -72.9 75.8 72.9" preserveAspectRatio="none"><text class="a">A</text></svg></g>
<g transform="translate(762)"><svg x="-12.35" y="233" width="24.7" height="3" viewBox="0.8 -72.9 75.8 72.9" preserveAspectRatio="none"><text class="a">A</text></svg><svg x="-12.35" y="236" width="24.7" height="3" viewBox="0.5 -72.9 67.3 72.9" preserveAspectRatio="none"><text class="t">T</text></svg><svg x="-12.35" y="239" width="24.7" height="4" viewBox="5.5 -74.2 61.7 75.6" preserveAspectRatio="none"><text class="c">C</text></svg></g>
<g transform="translate(788)"><svg x="-12.35" y="237" width="24.7" height="3" viewBox="5.5 -74.2 71.1 75.6" preserveAspectRatio="none"><text class="g">G</text></svg><svg x="-12.35" y="240" width="24.7" height="1" viewBox="0.5 -72.9 67.3 72.9" preserveAspectRatio="none"><text class="t">T</text></svg><svg x="-12.35" y="241" width="24.7" height="2" viewBox="5.5 -74.2 61.7 75.6" preserveAspectRatio="none"><text class="c">C</text></svg></g>
<g transform="translate(814)"><svg x="-12.35" y="238" width="24.7" height="2" viewBox="5.5 -74.2 61.7 75.6" preserveAspectRatio="none"><text class="c">C</text></svg><svg x="-12.35" y="240" width="24.7" height="1" viewBox="0.5 -72.9 67.3 72.9" preserveAspectRatio="none"><text class="t">T</text></svg><svg x="-12.35" y="241" width="24.7" height="2" viewBox="0.8 -72.9 75.8 72.9" preserveAspectRatio="none"><text class="a">A</text></svg></g>
<g transform="translate(840)"><svg x="-12.35" y="236" width="24.7" height="3" viewBox="0.8 -72.9 75.8 72.9" preserveAspectRatio="none"><text class="a">A</text></svg><svg x="-12.35" y="239" width="24.7" height="2" viewBox="0.5 -72.9 67.3 72.9" preserveAspectRatio="none"><text class="t">T</text></svg><svg x="-12.35" y="241" width="24.7" height="2" viewBox="5.5 -74.2 61.7 75.6" preserveAspectRatio="none"><text class="c">C</text></svg></g>
<g transform="translate(866)"><svg x="-12.35" y="241" width="24.7" height="2" viewBox="0.5 -72.9 67.3 72.9" preserveAspectRatio="none"><text class="t">T</text></svg></g>
<g transform="translate(892)"><svg x="-12.35" y="241" width="24.7" height="2" viewBox="0.5 -72.9 67.3 72.9" preserveAspectRatio="none"><text class="t">T</text></svg></g>
</g>

<!-- P6 -->
<g transform="translate(2100,300)">
<text class="ttl" x="0.5" y="37" textLength="845" lengthAdjust="spacingAndGlyphs">pattern_0, n=4839; subpattern_6, ns=315</text>
<path class="tk" d="M138 243v5M164 243v5M190 243v5M216 243v5M242 243v5M268 243v5M294 243v5M320 243v5M346 243v5M372 243v5M398 243v5M424 243v5M450 243v5M476 243v5M502 243v5M528 243v5M554 243v5M580 243v5M606 243v5M632 243v5M658 243v5M684 243v5M710 243v5M736 243v5M762 243v5M788 243v5M814 243v5M840 243v5M866 243v5M892 243v5M120 243h5M120 191h5M120 139h5M120 87h5"/>
<text class="yl" x="114.5" y="248">0.0</text><text class="yl" x="114.5" y="196">0.5</text><text class="yl" x="114.5" y="144">1.0</text><text class="yl" x="114.5" y="92">1.5</text>
<text class="xl" x="138" y="263">1</text><text class="xl" x="164" y="263">2</text><text class="xl" x="190" y="263">3</text><text class="xl" x="216" y="263">4</text><text class="xl" x="242" y="263">5</text><text class="xl" x="268" y="263">6</text><text class="xl" x="294" y="263">7</text><text class="xl" x="320" y="263">8</text><text class="xl" x="346" y="263">9</text><text class="xl" x="372" y="263">10</text><text class="xl" x="398" y="263">11</text><text class="xl" x="424" y="263">12</text><text class="xl" x="450" y="263">13</text><text class="xl" x="476" y="263">14</text><text class="xl" x="502" y="263">15</text><text class="xl" x="528" y="263">16</text><text class="xl" x="554" y="263">17</text><text class="xl" x="580" y="263">18</text><text class="xl" x="606" y="263">19</text><text class="xl" x="632" y="263">20</text><text class="xl" x="658" y="263">21</text><text class="xl" x="684" y="263">22</text><text class="xl" x="710" y="263">23</text><text class="xl" x="736" y="263">24</text><text class="xl" x="762" y="263">25</text><text class="xl" x="788" y="263">26</text><text class="xl" x="814" y="263">27</text><text class="xl" x="840" y="263">28</text><text class="xl" x="866" y="263">29</text><text class="xl" x="892" y="263">30</text>
<g transform="translate(138)"><svg x="-12.35" y="239" width="24.7" height="2" viewBox="0.8 -72.9 75.8 72.9" preserveAspectRatio="none"><text class="a">A</text></svg><svg x="-12.35" y="241" width="24.7" height="2" viewBox="0.5 -72.9 67.3 72.9" preserveAspectRatio="none"><text class="t">T</text></svg></g>
<g transform="translate(164)"><svg x="-12.35" y="241" width="24.7" height="2" viewBox="0.5 -72.9 67.3 72.9" preserveAspectRatio="none"><text class="t">T</text></svg></g>
<g transform="translate(190)"><svg x="-12.35" y="239" width="24.7" height="1" viewBox="0.8 -72.9 75.8 72.9" preserveAspectRatio="none"><text class="a">A</text></svg><svg x="-12.35" y="240" width="24.7" height="2" viewBox="0.5 -72.9 67.3 72.9" preserveAspectRatio="none"><text class="t">T</text></svg><svg x="-12.35" y="242" width="24.7" height="1" viewBox="5.5 -74.2 61.7 75.6" preserveAspectRatio="none"><text class="c">C</text></svg></g>
<g transform="translate(216)"><svg x="-12.35" y="238" width="24.7" height="2" viewBox="0.8 -72.9 75.8 72.9" preserveAspectRatio="none"><text class="a">A</text></svg><svg x="-12.35" y="240" width="24.7" height="2" viewBox="0.5 -72.9 67.3 72.9" preserveAspectRatio="none"><text class="t">T</text></svg><svg x="-12.35" y="242" width="24.7" height="1" viewBox="5.5 -74.2 61.7 75.6" preserveAspectRatio="none"><text class="c">C</text></svg></g>
<g transform="translate(242)"><svg x="-12.35" y="238" width="24.7" height="2" viewBox="0.8 -72.9 75.8 72.9" preserveAspectRatio="none"><text class="a">A</text></svg><svg x="-12.35" y="240" width="24.7" height="1" viewBox="5.5 -74.2 61.7 75.6" preserveAspectRatio="none"><text class="c">C</text></svg><svg x="-12.35" y="241" width="24.7" height="2" viewBox="0.5 -72.9 67.3 72.9" preserveAspectRatio="none"><text class="t">T</text></svg></g>
<g transform="translate(268)"><svg x="-12.35" y="239" width="24.7" height="2" viewBox="0.8 -72.9 75.8 72.9" preserveAspectRatio="none"><text class="a">A</text></svg><svg x="-12.35" y="241" width="24.7" height="1" viewBox="0.5 -72.9 67.3 72.9" preserveAspectRatio="none"><text class="t">T</text></svg><svg x="-12.35" y="242" width="24.7" height="1" viewBox="5.5 -74.2 61.7 75.6" preserveAspectRatio="none"><text class="c">C</text></svg></g>
<g transform="translate(294)"><svg x="-12.35" y="239" width="24.7" height="2" viewBox="0.8 -72.9 75.8 72.9" preserveAspectRatio="none"><text class="a">A</text></svg><svg x="-12.35" y="241" width="24.7" height="2" viewBox="0.5 -72.9 67.3 72.9" preserveAspectRatio="none"><text class="t">T</text></svg></g>
<g transform="translate(320)"><svg x="-12.35" y="224" width="24.7" height="8" viewBox="0.8 -72.9 75.8 72.9" preserveAspectRatio="none"><text class="a">A</text></svg><svg x="-12.35" y="232" width="24.7" height="3" viewBox="5.5 -74.2 61.7 75.6" preserveAspectRatio="none"><text class="c">C</text></svg><svg x="-12.35" y="235" width="24.7" height="3" viewBox="5.5 -74.2 71.1 75.6" preserveAspectRatio="none"><text class="g">G</text></svg><svg x="-12.35" y="238" width="24.7" height="5" viewBox="0.5 -72.9 67.3 72.9" preserveAspectRatio="none"><text class="t">T</text></svg></g>
<g transform="translate(346)"><svg x="-12.35" y="213" width="24.7" height="15" viewBox="0.8 -72.9 75.8 72.9" preserveAspectRatio="none"><text class="a">A</text></svg><svg x="-12.35" y="228" width="24.7" height="7" viewBox="5.5 -74.2 71.1 75.6" preserveAspectRatio="none"><text class="g">G</text></svg><svg x="-12.35" y="235" width="24.7" height="5" viewBox="0.5 -72.9 67.3 72.9" preserveAspectRatio="none"><text class="t">T</text></svg><svg x="-12.35" y="240" width="24.7" height="3" viewBox="5.5 -74.2 61.7 75.6" preserveAspectRatio="none"><text class="c">C</text></svg></g>
<g transform="translate(372)"><svg x="-12.35" y="208" width="24.7" height="15" viewBox="5.5 -74.2 71.1 75.6" preserveAspectRatio="none"><text class="g">G</text></svg><svg x="-12.35" y="223" width="24.7" height="10" viewBox="0.8 -72.9 75.8 72.9" preserveAspectRatio="none"><text class="a">A</text></svg><svg x="-12.35" y="233" width="24.7" height="7" viewBox="0.5 -72.9 67.3 72.9" preserveAspectRatio="none"><text class="t">T</text></svg><svg x="-12.35" y="240" width="24.7" height="3" viewBox="5.5 -74.2 61.7 75.6" preserveAspectRatio="none"><text class="c">C</text></svg></g>
<g transform="translate(398)"><svg x="-12.35" y="104" width="24.7" height="121" viewBox="5.5 -74.2 71.1 75.6" preserveAspectRatio="none"><text class="g">G</text></svg><svg x="-12.35" y="225" width="24.7" height="10" viewBox="0.8 -72.9 75.8 72.9" preserveAspectRatio="none"><text class="a">A</text></svg><svg x="-12.35" y="235" width="24.7" height="6" viewBox="5.5 -74.2 61.7 75.6" preserveAspectRatio="none"><text class="c">C</text></svg><svg x="-12.35" y="241" width="24.7" height="2" viewBox="0.5 -72.9 67.3 72.9" preserveAspectRatio="none"><text class="t">T</text></svg></g>
<g transform="translate(424)"><svg x="-12.35" y="83" width="24.7" height="147" viewBox="0.8 -72.9 75.8 72.9" preserveAspectRatio="none"><text class="a">A</text></svg><svg x="-12.35" y="230" width="24.7" height="8" viewBox="5.5 -74.2 61.7 75.6" preserveAspectRatio="none"><text class="c">C</text></svg><svg x="-12.35" y="238" width="24.7" height="3" viewBox="5.5 -74.2 71.1 75.6" preserveAspectRatio="none"><text class="g">G</text></svg><svg x="-12.35" y="241" width="24.7" height="2" viewBox="0.5 -72.9 67.3 72.9" preserveAspectRatio="none"><text class="t">T</text></svg></g>
<g transform="translate(450)"><svg x="-12.35" y="61" width="24.7" height="174" viewBox="0.8 -72.9 75.8 72.9" preserveAspectRatio="none"><text class="a">A</text></svg><svg x="-12.35" y="235" width="24.7" height="5" viewBox="5.5 -74.2 71.1 75.6" preserveAspectRatio="none"><text class="g">G</text></svg><svg x="-12.35" y="240" width="24.7" height="3" viewBox="0.5 -72.9 67.3 72.9" preserveAspectRatio="none"><text class="t">T</text></svg></g>
<g transform="translate(476)"><svg x="-12.35" y="137" width="24.7" height="78" viewBox="0.8 -72.9 75.8 72.9" preserveAspectRatio="none"><text class="a">A</text></svg><svg x="-12.35" y="215" width="24.7" height="23" viewBox="5.5 -74.2 71.1 75.6" preserveAspectRatio="none"><text class="g">G</text></svg><svg x="-12.35" y="238" width="24.7" height="5" viewBox="5.5 -74.2 61.7 75.6" preserveAspectRatio="none"><text class="c">C</text></svg></g>
<g transform="translate(502)"><svg x="-12.35" y="55" width="24.7" height="182" viewBox="5.5 -74.2 71.1 75.6" preserveAspectRatio="none"><text class="g">G</text></svg><svg x="-12.35" y="237" width="24.7" height="6" viewBox="0.5 -72.9 67.3 72.9" preserveAspectRatio="none"><text class="t">T</text></svg></g>
<g transform="translate(528)"><svg x="-12.35" y="204" width="24.7" height="23" viewBox="0.5 -72.9 67.3 72.9" preserveAspectRatio="none"><text class="t">T</text></svg><svg x="-12.35" y="227" width="24.7" height="6" viewBox="5.5 -74.2 61.7 75.6" preserveAspectRatio="none"><text class="c">C</text></svg><svg x="-12.35" y="233" width="24.7" height="5" viewBox="0.8 -72.9 75.8 72.9" preserveAspectRatio="none"><text class="a">A</text></svg><svg x="-12.35" y="238" width="24.7" height="5" viewBox="5.5 -74.2 71.1 75.6" preserveAspectRatio="none"><text class="g">G</text></svg></g>
<g transform="translate(554)"><svg x="-12.35" y="50" width="24.7" height="188" viewBox="5.5 -74.2 61.7 75.6" preserveAspectRatio="none"><text class="c">C</text></svg><svg x="-12.35" y="238" width="24.7" height="3" viewBox="0.8 -72.9 75.8 72.9" preserveAspectRatio="none"><text class="a">A</text></svg><svg x="-12.35" y="241" width="24.7" height="2" viewBox="0.5 -72.9 67.3 72.9" preserveAspectRatio="none"><text class="t">T</text></svg></g>
<g transform="translate(580)"><svg x="-12.35" y="51" width="24.7" height="187" viewBox="0.8 -72.9 75.8 72.9" preserveAspectRatio="none"><text class="a">A</text></svg><svg x="-12.35" y="238" width="24.7" height="3" viewBox="5.5 -74.2 71.1 75.6" preserveAspectRatio="none"><text class="g">G</text></svg><svg x="-12.35" y="241" width="24.7" height="2" viewBox="0.5 -72.9 67.3 72.9" preserveAspectRatio="none"><text class="t">T</text></svg></g>
<g transform="translate(606)"><svg x="-12.35" y="90" width="24.7" height="135" viewBox="0.5 -72.9 67.3 72.9" preserveAspectRatio="none"><text class="t">T</text></svg><svg x="-12.35" y="225" width="24.7" height="15" viewBox="5.5 -74.2 61.7 75.6" preserveAspectRatio="none"><text class="c">C</text></svg><svg x="-12.35" y="240" width="24.7" height="3" viewBox="0.8 -72.9 75.8 72.9" preserveAspectRatio="none"><text class="a">A</text></svg></g>
<g transform="translate(632)"><svg x="-12.35" y="68" width="24.7" height="165" viewBox="0.5 -72.9 67.3 72.9" preserveAspectRatio="none"><text class="t">T</text></svg><svg x="-12.35" y="233" width="24.7" height="5" viewBox="5.5 -74.2 61.7 75.6" preserveAspectRatio="none"><text class="c">C</text></svg><svg x="-12.35" y="238" width="24.7" height="5" viewBox="5.5 -74.2 71.1 75.6" preserveAspectRatio="none"><text class="g">G</text></svg></g>
<g transform="translate(658)"><svg x="-12.35" y="87" width="24.7" height="141" viewBox="0.5 -72.9 67.3 72.9" preserveAspectRatio="none"><text class="t">T</text></svg><svg x="-12.35" y="228" width="24.7" height="10" viewBox="5.5 -74.2 71.1 75.6" preserveAspectRatio="none"><text class="g">G</text></svg><svg x="-12.35" y="238" width="24.7" height="5" viewBox="5.5 -74.2 61.7 75.6" preserveAspectRatio="none"><text class="c">C</text></svg></g>
<g transform="translate(684)"><svg x="-12.35" y="68" width="24.7" height="165" viewBox="5.5 -74.2 61.7 75.6" preserveAspectRatio="none"><text class="c">C</text></svg><svg x="-12.35" y="233" width="24.7" height="9" viewBox="0.5 -72.9 67.3 72.9" preserveAspectRatio="none"><text class="t">T</text></svg><svg x="-12.35" y="242" width="24.7" height="1" viewBox="0.8 -72.9 75.8 72.9" preserveAspectRatio="none"><text class="a">A</text></svg></g>
<g transform="translate(710)"><svg x="-12.35" y="132" width="24.7" height="81" viewBox="0.5 -72.9 67.3 72.9" preserveAspectRatio="none"><text class="t">T</text></svg><svg x="-12.35" y="213" width="24.7" height="25" viewBox="5.5 -74.2 61.7 75.6" preserveAspectRatio="none"><text class="c">C</text></svg><svg x="-12.35" y="238" width="24.7" height="5" viewBox="0.8 -72.9 75.8 72.9" preserveAspectRatio="none"><text class="a">A</text></svg></g>
<g transform="translate(736)"><svg x="-12.35" y="226" width="24.7" height="6" viewBox="5.5 -74.2 61.7 75.6" preserveAspectRatio="none"><text class="c">C</text></svg><svg x="-12.35" y="232" width="24.7" height="5" viewBox="5.5 -74.2 71.1 75.6" preserveAspectRatio="none"><text class="g">G</text></svg><svg x="-12.35" y="237" width="24.7" height="6" viewBox="0.5 -72.9 67.3 72.9" preserveAspectRatio="none"><text class="t">T</text></svg></g>
<g transform="translate(762)"><svg x="-12.35" y="235" width="24.7" height="3" viewBox="0.8 -72.9 75.8 72.9" preserveAspectRatio="none"><text class="a">A</text></svg><svg x="-12.35" y="238" width="24.7" height="3" viewBox="0.5 -72.9 67.3 72.9" preserveAspectRatio="none"><text class="t">T</text></svg><svg x="-12.35" y="241" width="24.7" height="2" viewBox="5.5 -74.2 61.7 75.6" preserveAspectRatio="none"><text class="c">C</text></svg></g>
<g transform="translate(788)"><svg x="-12.35" y="240" width="24.7" height="1" viewBox="0.8 -72.9 75.8 72.9" preserveAspectRatio="none"><text class="a">A</text></svg><svg x="-12.35" y="241" width="24.7" height="2" viewBox="0.5 -72.9 67.3 72.9" preserveAspectRatio="none"><text class="t">T</text></svg></g>
<g transform="translate(814)"><svg x="-12.35" y="234" width="24.7" height="3" viewBox="0.8 -72.9 75.8 72.9" preserveAspectRatio="none"><text class="a">A</text></svg><svg x="-12.35" y="237" width="24.7" height="3" viewBox="0.5 -72.9 67.3 72.9" preserveAspectRatio="none"><text class="t">T</text></svg><svg x="-12.35" y="240" width="24.7" height="3" viewBox="5.5 -74.2 61.7 75.6" preserveAspectRatio="none"><text class="c">C</text></svg></g>
<g transform="translate(840)"><svg x="-12.35" y="241" width="24.7" height="2" viewBox="0.5 -72.9 67.3 72.9" preserveAspectRatio="none"><text class="t">T</text></svg></g>
<g transform="translate(866)"><svg x="-12.35" y="241" width="24.7" height="2" viewBox="0.5 -72.9 67.3 72.9" preserveAspectRatio="none"><text class="t">T</text></svg></g>
<g transform="translate(892)"><svg x="-12.35" y="241" width="24.7" height="2" viewBox="0.8 -72.9 75.8 72.9" preserveAspectRatio="none"><text class="a">A</text></svg></g>
</g>

<!-- P7 -->
<g transform="translate(3150,300)">
<text class="ttl" x="0.5" y="37" textLength="845" lengthAdjust="spacingAndGlyphs">pattern_0, n=4839; subpattern_7, ns=105</text>
<path class="tk" d="M138 243v5M164 243v5M190 243v5M216 243v5M242 243v5M268 243v5M294 243v5M320 243v5M346 243v5M372 243v5M398 243v5M424 243v5M450 243v5M476 243v5M502 243v5M528 243v5M554 243v5M580 243v5M606 243v5M632 243v5M658 243v5M684 243v5M710 243v5M736 243v5M762 243v5M788 243v5M814 243v5M840 243v5M866 243v5M892 243v5M120 243h5M120 195h5M120 147h5M120 99h5M120 51h5"/>
<text class="yl" x="114.5" y="248">0.0</text><text class="yl" x="114.5" y="200">0.5</text><text class="yl" x="114.5" y="152">1.0</text><text class="yl" x="114.5" y="104">1.5</text><text class="yl" x="114.5" y="56">2.0</text>
<text class="xl" x="138" y="263">1</text><text class="xl" x="164" y="263">2</text><text class="xl" x="190" y="263">3</text><text class="xl" x="216" y="263">4</text><text class="xl" x="242" y="263">5</text><text class="xl" x="268" y="263">6</text><text class="xl" x="294" y="263">7</text><text class="xl" x="320" y="263">8</text><text class="xl" x="346" y="263">9</text><text class="xl" x="372" y="263">10</text><text class="xl" x="398" y="263">11</text><text class="xl" x="424" y="263">12</text><text class="xl" x="450" y="263">13</text><text class="xl" x="476" y="263">14</text><text class="xl" x="502" y="263">15</text><text class="xl" x="528" y="263">16</text><text class="xl" x="554" y="263">17</text><text class="xl" x="580" y="263">18</text><text class="xl" x="606" y="263">19</text><text class="xl" x="632" y="263">20</text><text class="xl" x="658" y="263">21</text><text class="xl" x="684" y="263">22</text><text class="xl" x="710" y="263">23</text><text class="xl" x="736" y="263">24</text><text class="xl" x="762" y="263">25</text><text class="xl" x="788" y="263">26</text><text class="xl" x="814" y="263">27</text><text class="xl" x="840" y="263">28</text><text class="xl" x="866" y="263">29</text><text class="xl" x="892" y="263">30</text>
<g transform="translate(164)"><svg x="-12.35" y="238" width="24.7" height="2" viewBox="0.8 -72.9 75.8 72.9" preserveAspectRatio="none"><text class="a">A</text></svg><svg x="-12.35" y="240" width="24.7" height="1" viewBox="0.5 -72.9 67.3 72.9" preserveAspectRatio="none"><text class="t">T</text></svg><svg x="-12.35" y="241" width="24.7" height="2" viewBox="5.5 -74.2 61.7 75.6" preserveAspectRatio="none"><text class="c">C</text></svg></g>
<g transform="translate(190)"><svg x="-12.35" y="239" width="24.7" height="2" viewBox="0.8 -72.9 75.8 72.9" preserveAspectRatio="none"><text class="a">A</text></svg><svg x="-12.35" y="241" width="24.7" height="2" viewBox="0.5 -72.9 67.3 72.9" preserveAspectRatio="none"><text class="t">T</text></svg></g>
<g transform="translate(216)"><svg x="-12.35" y="237" width="24.7" height="2" viewBox="5.5 -74.2 71.1 75.6" preserveAspectRatio="none"><text class="g">G</text></svg><svg x="-12.35" y="239" width="24.7" height="2" viewBox="0.5 -72.9 67.3 72.9" preserveAspectRatio="none"><text class="t">T</text></svg><svg x="-12.35" y="241" width="24.7" height="2" viewBox="0.8 -72.9 75.8 72.9" preserveAspectRatio="none"><text class="a">A</text></svg></g>
<g transform="translate(242)"><svg x="-12.35" y="242" width="24.7" height="1" viewBox="0.5 -72.9 67.3 72.9" preserveAspectRatio="none"><text class="t">T</text></svg></g>
<g transform="translate(268)"><svg x="-12.35" y="236" width="24.7" height="3" viewBox="0.8 -72.9 75.8 72.9" preserveAspectRatio="none"><text class="a">A</text></svg><svg x="-12.35" y="239" width="24.7" height="2" viewBox="0.5 -72.9 67.3 72.9" preserveAspectRatio="none"><text class="t">T</text></svg><svg x="-12.35" y="241" width="24.7" height="2" viewBox="5.5 -74.2 61.7 75.6" preserveAspectRatio="none"><text class="c">C</text></svg></g>
<g transform="translate(294)"><svg x="-12.35" y="237" width="24.7" height="3" viewBox="0.8 -72.9 75.8 72.9" preserveAspectRatio="none"><text class="a">A</text></svg><svg x="-12.35" y="240" width="24.7" height="1" viewBox="0.5 -72.9 67.3 72.9" preserveAspectRatio="none"><text class="t">T</text></svg><svg x="-12.35" y="241" width="24.7" height="2" viewBox="5.5 -74.2 71.1 75.6" preserveAspectRatio="none"><text class="g">G</text></svg></g>
<g transform="translate(320)"><svg x="-12.35" y="211" width="24.7" height="14" viewBox="0.8 -72.9 75.8 72.9" preserveAspectRatio="none"><text class="a">A</text></svg><svg x="-12.35" y="225" width="24.7" height="10" viewBox="5.5 -74.2 71.1 75.6" preserveAspectRatio="none"><text class="g">G</text></svg><svg x="-12.35" y="235" width="24.7" height="5" viewBox="0.5 -72.9 67.3 72.9" preserveAspectRatio="none"><text class="t">T</text></svg><svg x="-12.35" y="240" width="24.7" height="3" viewBox="5.5 -74.2 61.7 75.6" preserveAspectRatio="none"><text class="c">C</text></svg></g>
<g transform="translate(346)"><svg x="-12.35" y="197" width="24.7" height="26" viewBox="0.8 -72.9 75.8 72.9" preserveAspectRatio="none"><text class="a">A</text></svg><svg x="-12.35" y="223" width="24.7" height="12" viewBox="5.5 -74.2 71.1 75.6" preserveAspectRatio="none"><text class="g">G</text></svg><svg x="-12.35" y="235" width="24.7" height="6" viewBox="0.5 -72.9 67.3 72.9" preserveAspectRatio="none"><text class="t">T</text></svg><svg x="-12.35" y="241" width="24.7" height="2" viewBox="5.5 -74.2 61.7 75.6" preserveAspectRatio="none"><text class="c">C</text></svg></g>
<g transform="translate(372)"><svg x="-12.35" y="172" width="24.7" height="45" viewBox="5.5 -74.2 71.1 75.6" preserveAspectRatio="none"><text class="g">G</text></svg><svg x="-12.35" y="217" width="24.7" height="20" viewBox="0.8 -72.9 75.8 72.9" preserveAspectRatio="none"><text class="a">A</text></svg><svg x="-12.35" y="237" width="24.7" height="4" viewBox="0.5 -72.9 67.3 72.9" preserveAspectRatio="none"><text class="t">T</text></svg><svg x="-12.35" y="241" width="24.7" height="2" viewBox="5.5 -74.2 61.7 75.6" preserveAspectRatio="none"><text class="c">C</text></svg></g>
<g transform="translate(398)"><svg x="-12.35" y="91" width="24.7" height="141" viewBox="5.5 -74.2 71.1 75.6" preserveAspectRatio="none"><text class="g">G</text></svg><svg x="-12.35" y="232" width="24.7" height="8" viewBox="0.8 -72.9 75.8 72.9" preserveAspectRatio="none"><text class="a">A</text></svg><svg x="-12.35" y="240" width="24.7" height="3" viewBox="0.5 -72.9 67.3 72.9" preserveAspectRatio="none"><text class="t">T</text></svg></g>
<g transform="translate(424)"><svg x="-12.35" y="77" width="24.7" height="157" viewBox="5.5 -74.2 71.1 75.6" preserveAspectRatio="none"><text class="g">G</text></svg><svg x="-12.35" y="234" width="24.7" height="7" viewBox="0.8 -72.9 75.8 72.9" preserveAspectRatio="none"><text class="a">A</text></svg><svg x="-12.35" y="241" width="24.7" height="2" viewBox="5.5 -74.2 61.7 75.6" preserveAspectRatio="none"><text class="c">C</text></svg></g>
<g transform="translate(450)"><svg x="-12.35" y="57" width="24.7" height="183" viewBox="0.8 -72.9 75.8 72.9" preserveAspectRatio="none"><text class="a">A</text></svg><svg x="-12.35" y="240" width="24.7" height="3" viewBox="5.5 -74.2 71.1 75.6" preserveAspectRatio="none"><text class="g">G</text></svg></g>
<g transform="translate(476)"><svg x="-12.35" y="98" width="24.7" height="130" viewBox="0.8 -72.9 75.8 72.9" preserveAspectRatio="none"><text class="a">A</text></svg><svg x="-12.35" y="228" width="24.7" height="12" viewBox="5.5 -74.2 71.1 75.6" preserveAspectRatio="none"><text class="g">G</text></svg><svg x="-12.35" y="240" width="24.7" height="3" viewBox="5.5 -74.2 61.7 75.6" preserveAspectRatio="none"><text class="c">C</text></svg></g>
<g transform="translate(502)"><svg x="-12.35" y="50" width="24.7" height="192" viewBox="5.5 -74.2 71.1 75.6" preserveAspectRatio="none"><text class="g">G</text></svg><svg x="-12.35" y="242" width="24.7" height="1" viewBox="5.5 -74.2 61.7 75.6" preserveAspectRatio="none"><text class="c">C</text></svg></g>
<g transform="translate(528)"><svg x="-12.35" y="182" width="24.7" height="41" viewBox="0.5 -72.9 67.3 72.9" preserveAspectRatio="none"><text class="t">T</text></svg><svg x="-12.35" y="223" width="24.7" height="7" viewBox="0.8 -72.9 75.8 72.9" preserveAspectRatio="none"><text class="a">A</text></svg><svg x="-12.35" y="230" width="24.7" height="5" viewBox="5.5 -74.2 71.1 75.6" preserveAspectRatio="none"><text class="g">G</text></svg><svg x="-12.35" y="235" width="24.7" height="8" viewBox="5.5 -74.2 61.7 75.6" preserveAspectRatio="none"><text class="c">C</text></svg></g>
<g transform="translate(554)"><svg x="-12.35" y="58" width="24.7" height="182" viewBox="5.5 -74.2 61.7 75.6" preserveAspectRatio="none"><text class="c">C</text></svg><svg x="-12.35" y="240" width="24.7" height="3" viewBox="0.8 -72.9 75.8 72.9" preserveAspectRatio="none"><text class="a">A</text></svg></g>
<g transform="translate(580)"><svg x="-12.35" y="57" width="24.7" height="183" viewBox="0.8 -72.9 75.8 72.9" preserveAspectRatio="none"><text class="a">A</text></svg><svg x="-12.35" y="240" width="24.7" height="3" viewBox="5.5 -74.2 71.1 75.6" preserveAspectRatio="none"><text class="g">G</text></svg></g>
<g transform="translate(606)"><svg x="-12.35" y="109" width="24.7" height="119" viewBox="0.5 -72.9 67.3 72.9" preserveAspectRatio="none"><text class="t">T</text></svg><svg x="-12.35" y="228" width="24.7" height="7" viewBox="5.5 -74.2 61.7 75.6" preserveAspectRatio="none"><text class="c">C</text></svg><svg x="-12.35" y="235" width="24.7" height="5" viewBox="0.8 -72.9 75.8 72.9" preserveAspectRatio="none"><text class="a">A</text></svg><svg x="-12.35" y="240" width="24.7" height="3" viewBox="5.5 -74.2 71.1 75.6" preserveAspectRatio="none"><text class="g">G</text></svg></g>
<g transform="translate(632)"><svg x="-12.35" y="71" width="24.7" height="167" viewBox="0.5 -72.9 67.3 72.9" preserveAspectRatio="none"><text class="t">T</text></svg><svg x="-12.35" y="238" width="24.7" height="3" viewBox="5.5 -74.2 71.1 75.6" preserveAspectRatio="none"><text class="g">G</text></svg><svg x="-12.35" y="241" width="24.7" height="2" viewBox="5.5 -74.2 61.7 75.6" preserveAspectRatio="none"><text class="c">C</text></svg></g>
<g transform="translate(658)"><svg x="-12.35" y="142" width="24.7" height="77" viewBox="0.5 -72.9 67.3 72.9" preserveAspectRatio="none"><text class="t">T</text></svg><svg x="-12.35" y="219" width="24.7" height="14" viewBox="5.5 -74.2 71.1 75.6" preserveAspectRatio="none"><text class="g">G</text></svg><svg x="-12.35" y="233" width="24.7" height="10" viewBox="5.5 -74.2 61.7 75.6" preserveAspectRatio="none"><text class="c">C</text></svg></g>
<g transform="translate(684)"><svg x="-12.35" y="104" width="24.7" height="123" viewBox="0.5 -72.9 67.3 72.9" preserveAspectRatio="none"><text class="t">T</text></svg><svg x="-12.35" y="227" width="24.7" height="14" viewBox="0.8 -72.9 75.8 72.9" preserveAspectRatio="none"><text class="a">A</text></svg><svg x="-12.35" y="241" width="24.7" height="2" viewBox="5.5 -74.2 61.7 75.6" preserveAspectRatio="none"><text class="c">C</text></svg></g>
<g transform="translate(710)"><svg x="-12.35" y="153" width="24.7" height="60" viewBox="0.5 -72.9 67.3 72.9" preserveAspectRatio="none"><text class="t">T</text></svg><svg x="-12.35" y="213" width="24.7" height="27" viewBox="5.5 -74.2 61.7 75.6" preserveAspectRatio="none"><text class="c">C</text></svg><svg x="-12.35" y="240" width="24.7" height="3" viewBox="0.8 -72.9 75.8 72.9" preserveAspectRatio="none"><text class="a">A</text></svg></g>
<g transform="translate(736)"><svg x="-12.35" y="208" width="24.7" height="19" viewBox="5.5 -74.2 61.7 75.6" preserveAspectRatio="none"><text class="c">C</text></svg><svg x="-12.35" y="227" width="24.7" height="8" viewBox="0.5 -72.9 67.3 72.9" preserveAspectRatio="none"><text class="t">T</text></svg><svg x="-12.35" y="235" width="24.7" height="3" viewBox="0.8 -72.9 75.8 72.9" preserveAspectRatio="none"><text class="a">A</text></svg><svg x="-12.35" y="238" width="24.7" height="5" viewBox="5.5 -74.2 71.1 75.6" preserveAspectRatio="none"><text class="g">G</text></svg></g>
<g transform="translate(762)"><svg x="-12.35" y="220" width="24.7" height="8" viewBox="0.5 -72.9 67.3 72.9" preserveAspectRatio="none"><text class="t">T</text></svg><svg x="-12.35" y="228" width="24.7" height="7" viewBox="0.8 -72.9 75.8 72.9" preserveAspectRatio="none"><text class="a">A</text></svg><svg x="-12.35" y="235" width="24.7" height="5" viewBox="5.5 -74.2 61.7 75.6" preserveAspectRatio="none"><text class="c">C</text></svg><svg x="-12.35" y="240" width="24.7" height="3" viewBox="5.5 -74.2 71.1 75.6" preserveAspectRatio="none"><text class="g">G</text></svg></g>
<g transform="translate(788)"><svg x="-12.35" y="241" width="24.7" height="2" viewBox="0.8 -72.9 75.8 72.9" preserveAspectRatio="none"><text class="a">A</text></svg></g>
<g transform="translate(814)"><svg x="-12.35" y="233" width="24.7" height="4" viewBox="0.5 -72.9 67.3 72.9" preserveAspectRatio="none"><text class="t">T</text></svg><svg x="-12.35" y="237" width="24.7" height="3" viewBox="0.8 -72.9 75.8 72.9" preserveAspectRatio="none"><text class="a">A</text></svg><svg x="-12.35" y="240" width="24.7" height="3" viewBox="5.5 -74.2 71.1 75.6" preserveAspectRatio="none"><text class="g">G</text></svg></g>
<g transform="translate(840)"><svg x="-12.35" y="241" width="24.7" height="2" viewBox="0.5 -72.9 67.3 72.9" preserveAspectRatio="none"><text class="t">T</text></svg></g>
<g transform="translate(866)"><svg x="-12.35" y="241" width="24.7" height="2" viewBox="0.5 -72.9 67.3 72.9" preserveAspectRatio="none"><text class="t">T</text></svg></g>
<g transform="translate(892)"><svg x="-12.35" y="228" width="24.7" height="5" viewBox="0.8 -72.9 75.8 72.9" preserveAspectRatio="none"><text class="a">A</text></svg><svg x="-12.35" y="233" width="24.7" height="5" viewBox="0.5 -72.9 67.3 72.9" preserveAspectRatio="none"><text class="t">T</text></svg><svg x="-12.35" y="238" width="24.7" height="2" viewBox="5.5 -74.2 61.7 75.6" preserveAspectRatio="none"><text class="c">C</text></svg><svg x="-12.35" y="240" width="24.7" height="3" viewBox="5.5 -74.2 71.1 75.6" preserveAspectRatio="none"><text class="g">G</text></svg></g>
</g>

<!-- P8 -->
<g transform="translate(0,600)">
<text class="ttl" x="0.5" y="37" textLength="794" lengthAdjust="spacingAndGlyphs">pattern_0, n=4839; subpattern_8, ns=3</text>
<path class="tk" d="M138 243v5M164 243v5M190 243v5M216 243v5M242 243v5M268 243v5M294 243v5M320 243v5M346 243v5M372 243v5M398 243v5M424 243v5M450 243v5M476 243v5M502 243v5M528 243v5M554 243v5M580 243v5M606 243v5M632 243v5M658 243v5M684 243v5M710 243v5M736 243v5M762 243v5M788 243v5M814 243v5M840 243v5M866 243v5M892 243v5M120 243h5M120 195h5M120 147h5M120 99h5M120 51h5"/>
<text class="yl" x="114.5" y="248">0.0</text><text class="yl" x="114.5" y="200">0.5</text><text class="yl" x="114.5" y="152">1.0</text><text class="yl" x="114.5" y="104">1.5</text><text class="yl" x="114.5" y="56">2.0</text>
<text class="xl" x="138" y="263">1</text><text class="xl" x="164" y="263">2</text><text class="xl" x="190" y="263">3</text><text class="xl" x="216" y="263">4</text><text class="xl" x="242" y="263">5</text><text class="xl" x="268" y="263">6</text><text class="xl" x="294" y="263">7</text><text class="xl" x="320" y="263">8</text><text class="xl" x="346" y="263">9</text><text class="xl" x="372" y="263">10</text><text class="xl" x="398" y="263">11</text><text class="xl" x="424" y="263">12</text><text class="xl" x="450" y="263">13</text><text class="xl" x="476" y="263">14</text><text class="xl" x="502" y="263">15</text><text class="xl" x="528" y="263">16</text><text class="xl" x="554" y="263">17</text><text class="xl" x="580" y="263">18</text><text class="xl" x="606" y="263">19</text><text class="xl" x="632" y="263">20</text><text class="xl" x="658" y="263">21</text><text class="xl" x="684" y="263">22</text><text class="xl" x="710" y="263">23</text><text class="xl" x="736" y="263">24</text><text class="xl" x="762" y="263">25</text><text class="xl" x="788" y="263">26</text><text class="xl" x="814" y="263">27</text><text class="xl" x="840" y="263">28</text><text class="xl" x="866" y="263">29</text><text class="xl" x="892" y="263">30</text>
<g transform="translate(138)"><svg x="-12.35" y="51" width="24.7" height="192" viewBox="0.8 -72.9 75.8 72.9" preserveAspectRatio="none"><text class="a">A</text></svg></g>
<g transform="translate(164)"><svg x="-12.35" y="51" width="24.7" height="192" viewBox="5.5 -74.2 71.1 75.6" preserveAspectRatio="none"><text class="g">G</text></svg></g>
<g transform="translate(190)"><svg x="-12.35" y="51" width="24.7" height="192" viewBox="5.5 -74.2 71.1 75.6" preserveAspectRatio="none"><text class="g">G</text></svg></g>
<g transform="translate(216)"><svg x="-12.35" y="51" width="24.7" height="192" viewBox="5.5 -74.2 71.1 75.6" preserveAspectRatio="none"><text class="g">G</text></svg></g>
<g transform="translate(242)"><svg x="-12.35" y="139" width="24.7" height="69" viewBox="5.5 -74.2 71.1 75.6" preserveAspectRatio="none"><text class="g">G</text></svg><svg x="-12.35" y="208" width="24.7" height="35" viewBox="0.8 -72.9 75.8 72.9" preserveAspectRatio="none"><text class="a">A</text></svg></g>
<g transform="translate(268)"><svg x="-12.35" y="51" width="24.7" height="192" viewBox="0.8 -72.9 75.8 72.9" preserveAspectRatio="none"><text class="a">A</text></svg></g>
<g transform="translate(294)"><svg x="-12.35" y="51" width="24.7" height="192" viewBox="5.5 -74.2 71.1 75.6" preserveAspectRatio="none"><text class="g">G</text></svg></g>
<g transform="translate(320)"><svg x="-12.35" y="51" width="24.7" height="192" viewBox="5.5 -74.2 71.1 75.6" preserveAspectRatio="none"><text class="g">G</text></svg></g>
<g transform="translate(346)"><svg x="-12.35" y="51" width="24.7" height="192" viewBox="0.8 -72.9 75.8 72.9" preserveAspectRatio="none"><text class="a">A</text></svg></g>
<g transform="translate(372)"><svg x="-12.35" y="51" width="24.7" height="192" viewBox="0.5 -72.9 67.3 72.9" preserveAspectRatio="none"><text class="t">T</text></svg></g>
<g transform="translate(398)"><svg x="-12.35" y="51" width="24.7" height="192" viewBox="5.5 -74.2 71.1 75.6" preserveAspectRatio="none"><text class="g">G</text></svg></g>
<g transform="translate(424)"><svg x="-12.35" y="51" width="24.7" height="192" viewBox="5.5 -74.2 71.1 75.6" preserveAspectRatio="none"><text class="g">G</text></svg></g>
<g transform="translate(450)"><svg x="-12.35" y="51" width="24.7" height="192" viewBox="0.8 -72.9 75.8 72.9" preserveAspectRatio="none"><text class="a">A</text></svg></g>
<g transform="translate(476)"><svg x="-12.35" y="51" width="24.7" height="192" viewBox="5.5 -74.2 71.1 75.6" preserveAspectRatio="none"><text class="g">G</text></svg></g>
<g transform="translate(502)"><svg x="-12.35" y="51" width="24.7" height="192" viewBox="5.5 -74.2 71.1 75.6" preserveAspectRatio="none"><text class="g">G</text></svg></g>
<g transform="translate(528)"><svg x="-12.35" y="51" width="24.7" height="192" viewBox="5.5 -74.2 71.1 75.6" preserveAspectRatio="none"><text class="g">G</text></svg></g>
<g transform="translate(554)"><svg x="-12.35" y="51" width="24.7" height="192" viewBox="5.5 -74.2 61.7 75.6" preserveAspectRatio="none"><text class="c">C</text></svg></g>
<g transform="translate(580)"><svg x="-12.35" y="51" width="24.7" height="192" viewBox="0.8 -72.9 75.8 72.9" preserveAspectRatio="none"><text class="a">A</text></svg></g>
<g transform="translate(606)"><svg x="-12.35" y="51" width="24.7" height="192" viewBox="0.5 -72.9 67.3 72.9" preserveAspectRatio="none"><text class="t">T</text></svg></g>
<g transform="translate(632)"><svg x="-12.35" y="51" width="24.7" height="192" viewBox="0.5 -72.9 67.3 72.9" preserveAspectRatio="none"><text class="t">T</text></svg></g>
<g transform="translate(658)"><svg x="-12.35" y="51" width="24.7" height="192" viewBox="0.5 -72.9 67.3 72.9" preserveAspectRatio="none"><text class="t">T</text></svg></g>
<g transform="translate(684)"><svg x="-12.35" y="51" width="24.7" height="192" viewBox="5.5 -74.2 61.7 75.6" preserveAspectRatio="none"><text class="c">C</text></svg></g>
<g transform="translate(710)"><svg x="-12.35" y="51" width="24.7" height="192" viewBox="0.5 -72.9 67.3 72.9" preserveAspectRatio="none"><text class="t">T</text></svg></g>
<g transform="translate(736)"><svg x="-12.35" y="51" width="24.7" height="192" viewBox="5.5 -74.2 71.1 75.6" preserveAspectRatio="none"><text class="g">G</text></svg></g>
<g transform="translate(762)"><svg x="-12.35" y="51" width="24.7" height="192" viewBox="5.5 -74.2 61.7 75.6" preserveAspectRatio="none"><text class="c">C</text></svg></g>
<g transform="translate(788)"><svg x="-12.35" y="51" width="24.7" height="192" viewBox="0.8 -72.9 75.8 72.9" preserveAspectRatio="none"><text class="a">A</text></svg></g>
<g transform="translate(814)"><svg x="-12.35" y="51" width="24.7" height="192" viewBox="5.5 -74.2 71.1 75.6" preserveAspectRatio="none"><text class="g">G</text></svg></g>
<g transform="translate(840)"><svg x="-12.35" y="51" width="24.7" height="192" viewBox="5.5 -74.2 71.1 75.6" preserveAspectRatio="none"><text class="g">G</text></svg></g>
<g transform="translate(866)"><svg x="-12.35" y="139" width="24.7" height="69" viewBox="5.5 -74.2 71.1 75.6" preserveAspectRatio="none"><text class="g">G</text></svg><svg x="-12.35" y="208" width="24.7" height="35" viewBox="0.8 -72.9 75.8 72.9" preserveAspectRatio="none"><text class="a">A</text></svg></g>
<g transform="translate(892)"><svg x="-12.35" y="51" width="24.7" height="192" viewBox="5.5 -74.2 71.1 75.6" preserveAspectRatio="none"><text class="g">G</text></svg></g>
</g>

<!-- P9 -->
<g transform="translate(1050,600)">
<text class="ttl" x="0.5" y="37" textLength="794" lengthAdjust="spacingAndGlyphs">pattern_0, n=4839; subpattern_9, ns=3</text>
<path class="tk" d="M138 243v5M164 243v5M190 243v5M216 243v5M242 243v5M268 243v5M294 243v5M320 243v5M346 243v5M372 243v5M398 243v5M424 243v5M450 243v5M476 243v5M502 243v5M528 243v5M554 243v5M580 243v5M606 243v5M632 243v5M658 243v5M684 243v5M710 243v5M736 243v5M762 243v5M788 243v5M814 243v5M840 243v5M866 243v5M892 243v5M120 243h5M120 195h5M120 147h5M120 99h5M120 51h5"/>
<text class="yl" x="114.5" y="248">0.0</text><text class="yl" x="114.5" y="200">0.5</text><text class="yl" x="114.5" y="152">1.0</text><text class="yl" x="114.5" y="104">1.5</text><text class="yl" x="114.5" y="56">2.0</text>
<text class="xl" x="138" y="263">1</text><text class="xl" x="164" y="263">2</text><text class="xl" x="190" y="263">3</text><text class="xl" x="216" y="263">4</text><text class="xl" x="242" y="263">5</text><text class="xl" x="268" y="263">6</text><text class="xl" x="294" y="263">7</text><text class="xl" x="320" y="263">8</text><text class="xl" x="346" y="263">9</text><text class="xl" x="372" y="263">10</text><text class="xl" x="398" y="263">11</text><text class="xl" x="424" y="263">12</text><text class="xl" x="450" y="263">13</text><text class="xl" x="476" y="263">14</text><text class="xl" x="502" y="263">15</text><text class="xl" x="528" y="263">16</text><text class="xl" x="554" y="263">17</text><text class="xl" x="580" y="263">18</text><text class="xl" x="606" y="263">19</text><text class="xl" x="632" y="263">20</text><text class="xl" x="658" y="263">21</text><text class="xl" x="684" y="263">22</text><text class="xl" x="710" y="263">23</text><text class="xl" x="736" y="263">24</text><text class="xl" x="762" y="263">25</text><text class="xl" x="788" y="263">26</text><text class="xl" x="814" y="263">27</text><text class="xl" x="840" y="263">28</text><text class="xl" x="866" y="263">29</text><text class="xl" x="892" y="263">30</text>
<g transform="translate(138)"><svg x="-12.35" y="51" width="24.7" height="192" viewBox="0.5 -72.9 67.3 72.9" preserveAspectRatio="none"><text class="t">T</text></svg></g>
<g transform="translate(164)"><svg x="-12.35" y="51" width="24.7" height="192" viewBox="0.5 -72.9 67.3 72.9" preserveAspectRatio="none"><text class="t">T</text></svg></g>
<g transform="translate(190)"><svg x="-12.35" y="139" width="24.7" height="69" viewBox="0.5 -72.9 67.3 72.9" preserveAspectRatio="none"><text class="t">T</text></svg><svg x="-12.35" y="208" width="24.7" height="35" viewBox="5.5 -74.2 61.7 75.6" preserveAspectRatio="none"><text class="c">C</text></svg></g>
<g transform="translate(216)"><svg x="-12.35" y="139" width="24.7" height="69" viewBox="5.5 -74.2 61.7 75.6" preserveAspectRatio="none"><text class="c">C</text></svg><svg x="-12.35" y="208" width="24.7" height="35" viewBox="0.5 -72.9 67.3 72.9" preserveAspectRatio="none"><text class="t">T</text></svg></g>
<g transform="translate(242)"><svg x="-12.35" y="139" width="24.7" height="69" viewBox="0.8 -72.9 75.8 72.9" preserveAspectRatio="none"><text class="a">A</text></svg><svg x="-12.35" y="208" width="24.7" height="35" viewBox="5.5 -74.2 71.1 75.6" preserveAspectRatio="none"><text class="g">G</text></svg></g>
<g transform="translate(268)"><svg x="-12.35" y="139" width="24.7" height="69" viewBox="0.5 -72.9 67.3 72.9" preserveAspectRatio="none"><text class="t">T</text></svg><svg x="-12.35" y="208" width="24.7" height="35" viewBox="0.8 -72.9 75.8 72.9" preserveAspectRatio="none"><text class="a">A</text></svg></g>
<g transform="translate(294)"><svg x="-12.35" y="51" width="24.7" height="192" viewBox="5.5 -74.2 61.7 75.6" preserveAspectRatio="none"><text class="c">C</text></svg></g>
<g transform="translate(320)"><svg x="-12.35" y="51" width="24.7" height="192" viewBox="0.5 -72.9 67.3 72.9" preserveAspectRatio="none"><text class="t">T</text></svg></g>
<g transform="translate(346)"><svg x="-12.35" y="139" width="24.7" height="69" viewBox="5.5 -74.2 61.7 75.6" preserveAspectRatio="none"><text class="c">C</text></svg><svg x="-12.35" y="208" width="24.7" height="35" viewBox="5.5 -74.2 71.1 75.6" preserveAspectRatio="none"><text class="g">G</text></svg></g>
<g transform="translate(372)"><svg x="-12.35" y="139" width="24.7" height="69" viewBox="0.8 -72.9 75.8 72.9" preserveAspectRatio="none"><text class="a">A</text></svg><svg x="-12.35" y="208" width="24.7" height="35" viewBox="5.5 -74.2 71.1 75.6" preserveAspectRatio="none"><text class="g">G</text></svg></g>
<g transform="translate(398)"><svg x="-12.35" y="51" width="24.7" height="192" viewBox="5.5 -74.2 71.1 75.6" preserveAspectRatio="none"><text class="g">G</text></svg></g>
<g transform="translate(424)"><svg x="-12.35" y="139" width="24.7" height="69" viewBox="5.5 -74.2 71.1 75.6" preserveAspectRatio="none"><text class="g">G</text></svg><svg x="-12.35" y="208" width="24.7" height="35" viewBox="5.5 -74.2 61.7 75.6" preserveAspectRatio="none"><text class="c">C</text></svg></g>
<g transform="translate(450)"><svg x="-12.35" y="139" width="24.7" height="69" viewBox="0.8 -72.9 75.8 72.9" preserveAspectRatio="none"><text class="a">A</text></svg><svg x="-12.35" y="208" width="24.7" height="35" viewBox="5.5 -74.2 71.1 75.6" preserveAspectRatio="none"><text class="g">G</text></svg></g>
<g transform="translate(476)"><svg x="-12.35" y="51" width="24.7" height="192" viewBox="0.5 -72.9 67.3 72.9" preserveAspectRatio="none"><text class="t">T</text></svg></g>
<g transform="translate(502)"><svg x="-12.35" y="51" width="24.7" height="192" viewBox="5.5 -74.2 71.1 75.6" preserveAspectRatio="none"><text class="g">G</text></svg></g>
<g transform="translate(528)"><svg x="-12.35" y="139" width="24.7" height="69" viewBox="5.5 -74.2 71.1 75.6" preserveAspectRatio="none"><text class="g">G</text></svg><svg x="-12.35" y="208" width="24.7" height="35" viewBox="0.8 -72.9 75.8 72.9" preserveAspectRatio="none"><text class="a">A</text></svg></g>
<g transform="translate(554)"><svg x="-12.35" y="139" width="24.7" height="69" viewBox="5.5 -74.2 61.7 75.6" preserveAspectRatio="none"><text class="c">C</text></svg><svg x="-12.35" y="208" width="24.7" height="35" viewBox="0.8 -72.9 75.8 72.9" preserveAspectRatio="none"><text class="a">A</text></svg></g>
<g transform="translate(580)"><svg x="-12.35" y="139" width="24.7" height="69" viewBox="0.8 -72.9 75.8 72.9" preserveAspectRatio="none"><text class="a">A</text></svg><svg x="-12.35" y="208" width="24.7" height="35" viewBox="0.5 -72.9 67.3 72.9" preserveAspectRatio="none"><text class="t">T</text></svg></g>
<g transform="translate(606)"><svg x="-12.35" y="51" width="24.7" height="192" viewBox="0.5 -72.9 67.3 72.9" preserveAspectRatio="none"><text class="t">T</text></svg></g>
<g transform="translate(632)"><svg x="-12.35" y="51" width="24.7" height="192" viewBox="0.5 -72.9 67.3 72.9" preserveAspectRatio="none"><text class="t">T</text></svg></g>
<g transform="translate(658)"><svg x="-12.35" y="51" width="24.7" height="192" viewBox="5.5 -74.2 61.7 75.6" preserveAspectRatio="none"><text class="c">C</text></svg></g>
<g transform="translate(684)"><svg x="-12.35" y="51" width="24.7" height="192" viewBox="5.5 -74.2 61.7 75.6" preserveAspectRatio="none"><text class="c">C</text></svg></g>
<g transform="translate(710)"><svg x="-12.35" y="139" width="24.7" height="69" viewBox="5.5 -74.2 61.7 75.6" preserveAspectRatio="none"><text class="c">C</text></svg><svg x="-12.35" y="208" width="24.7" height="35" viewBox="0.5 -72.9 67.3 72.9" preserveAspectRatio="none"><text class="t">T</text></svg></g>
<g transform="translate(736)"><svg x="-12.35" y="51" width="24.7" height="192" viewBox="0.5 -72.9 67.3 72.9" preserveAspectRatio="none"><text class="t">T</text></svg></g>
<g transform="translate(762)"><svg x="-12.35" y="139" width="24.7" height="69" viewBox="0.8 -72.9 75.8 72.9" preserveAspectRatio="none"><text class="a">A</text></svg><svg x="-12.35" y="208" width="24.7" height="35" viewBox="5.5 -74.2 71.1 75.6" preserveAspectRatio="none"><text class="g">G</text></svg></g>
<g transform="translate(788)"><svg x="-12.35" y="139" width="24.7" height="69" viewBox="5.5 -74.2 71.1 75.6" preserveAspectRatio="none"><text class="g">G</text></svg><svg x="-12.35" y="208" width="24.7" height="35" viewBox="0.8 -72.9 75.8 72.9" preserveAspectRatio="none"><text class="a">A</text></svg></g>
<g transform="translate(814)"><svg x="-12.35" y="51" width="24.7" height="192" viewBox="5.5 -74.2 71.1 75.6" preserveAspectRatio="none"><text class="g">G</text></svg></g>
<g transform="translate(840)"><svg x="-12.35" y="51" width="24.7" height="192" viewBox="5.5 -74.2 61.7 75.6" preserveAspectRatio="none"><text class="c">C</text></svg></g>
<g transform="translate(866)"><svg x="-12.35" y="139" width="24.7" height="69" viewBox="0.5 -72.9 67.3 72.9" preserveAspectRatio="none"><text class="t">T</text></svg><svg x="-12.35" y="208" width="24.7" height="35" viewBox="0.8 -72.9 75.8 72.9" preserveAspectRatio="none"><text class="a">A</text></svg></g>
<g transform="translate(892)"><svg x="-12.35" y="51" width="24.7" height="192" viewBox="5.5 -74.2 71.1 75.6" preserveAspectRatio="none"><text class="g">G</text></svg></g>
</g>
</svg>
</body></html>
